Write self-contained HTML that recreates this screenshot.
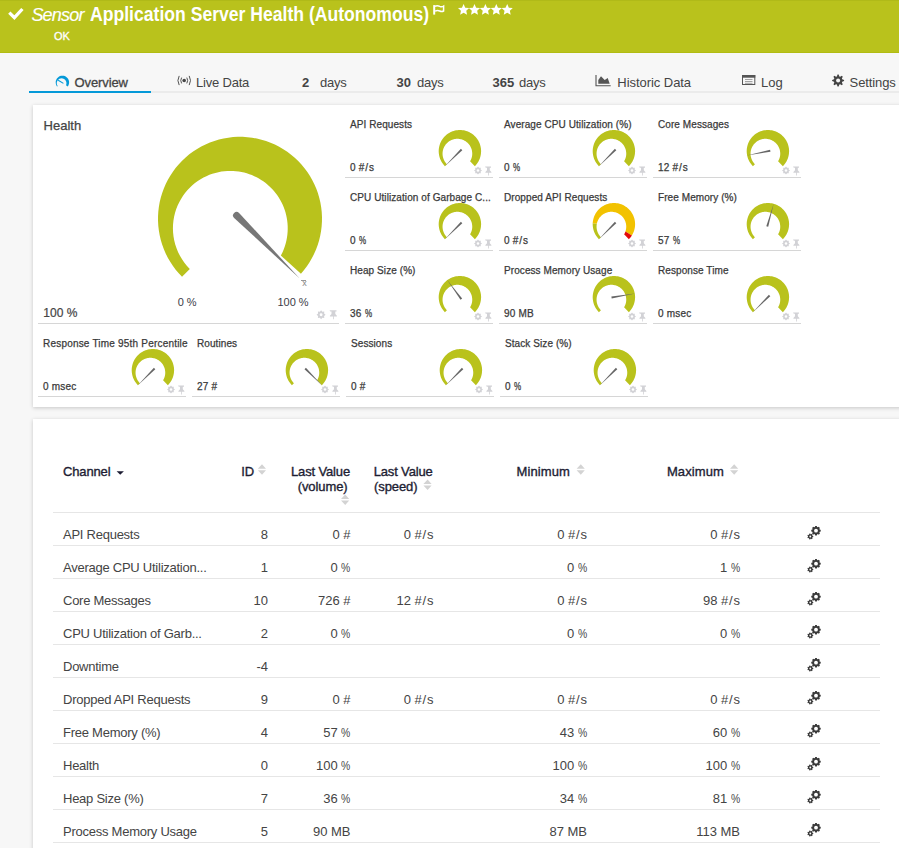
<!DOCTYPE html>
<html><head><meta charset="utf-8"><style>
*{margin:0;padding:0;box-sizing:border-box}
html,body{width:899px;height:848px;overflow:hidden;background:#f7f7f7;font-family:"Liberation Sans",sans-serif;position:relative}
.t{position:absolute;white-space:nowrap;line-height:1}
.tt,.tv{color:#3a3a3a;-webkit-text-stroke:0.25px #3a3a3a}
.th{color:#444;-webkit-text-stroke:0.25px #444}
.tbv{color:#444;-webkit-text-stroke:0.2px #444}
.tl{color:#3c3c48}
.hs{color:#fff;font-style:italic}
.ht{color:#fff;font-weight:bold}
.hok{color:#fff}
.tab{color:#444}
.tab.b{font-weight:bold}
.tab.act{-webkit-text-stroke:0.3px #444}
.th2{color:#1d1d33;-webkit-text-stroke:0.35px #1d1d33}
.td{color:#444}
.pc{display:inline-block;transform:scaleX(0.8);transform-origin:0 50%;margin-right:-2.3px}
.sl{margin:0 0.8px}
#hdr{position:absolute;left:0;top:0;width:899px;height:53px;background:#b9c21c;border-bottom:1px solid #b1bc12;border-top:1px solid #b0ba18}
.panel{position:absolute;left:33px;width:900px;background:#fff;box-shadow:0 1px 4px rgba(0,0,0,0.2)}
</style></head><body>
<div id="hdr"></div>
<div class="panel" style="top:105px;height:302px"></div>
<div class="panel" style="top:419px;height:500px"></div>
<div class="t tt" style="left:350.00px;top:120.44px;font-size:10px;letter-spacing:0.08px">API Requests</div><div class="t tv" style="left:350.00px;top:163.34px;font-size:10px;letter-spacing:0.2px">0 #<span class="sl">/</span>s</div><div style="position:absolute;left:345px;top:177px;width:148px;height:1px;background:#d6d6d6"></div><div class="t tt" style="left:504.00px;top:120.44px;font-size:10px;letter-spacing:0.08px">Average CPU Utilization (%)</div><div class="t tv" style="left:504.00px;top:163.34px;font-size:10px;letter-spacing:0.2px">0 <span class="pc">%</span></div><div style="position:absolute;left:499px;top:177px;width:148px;height:1px;background:#d6d6d6"></div><div class="t tt" style="left:658.00px;top:120.44px;font-size:10px;letter-spacing:0.08px">Core Messages</div><div class="t tv" style="left:658.00px;top:163.34px;font-size:10px;letter-spacing:0.2px">12 #<span class="sl">/</span>s</div><div style="position:absolute;left:653px;top:177px;width:148px;height:1px;background:#d6d6d6"></div><div class="t tt" style="left:350.00px;top:193.44px;font-size:10px;letter-spacing:0.08px">CPU Utilization of Garbage C...</div><div class="t tv" style="left:350.00px;top:236.34px;font-size:10px;letter-spacing:0.2px">0 <span class="pc">%</span></div><div style="position:absolute;left:345px;top:250px;width:148px;height:1px;background:#d6d6d6"></div><div class="t tt" style="left:504.00px;top:193.44px;font-size:10px;letter-spacing:0.08px">Dropped API Requests</div><div class="t tv" style="left:504.00px;top:236.34px;font-size:10px;letter-spacing:0.2px">0 #<span class="sl">/</span>s</div><div style="position:absolute;left:499px;top:250px;width:148px;height:1px;background:#d6d6d6"></div><div class="t tt" style="left:658.00px;top:193.44px;font-size:10px;letter-spacing:0.08px">Free Memory (%)</div><div class="t tv" style="left:658.00px;top:236.34px;font-size:10px;letter-spacing:0.2px">57 <span class="pc">%</span></div><div style="position:absolute;left:653px;top:250px;width:148px;height:1px;background:#d6d6d6"></div><div class="t tt" style="left:350.00px;top:266.44px;font-size:10px;letter-spacing:0.08px">Heap Size (%)</div><div class="t tv" style="left:350.00px;top:309.34px;font-size:10px;letter-spacing:0.2px">36 <span class="pc">%</span></div><div style="position:absolute;left:345px;top:323px;width:148px;height:1px;background:#d6d6d6"></div><div class="t tt" style="left:504.00px;top:266.44px;font-size:10px;letter-spacing:0.08px">Process Memory Usage</div><div class="t tv" style="left:504.00px;top:309.34px;font-size:10px;letter-spacing:0.2px">90 MB</div><div style="position:absolute;left:499px;top:323px;width:148px;height:1px;background:#d6d6d6"></div><div class="t tt" style="left:658.00px;top:266.44px;font-size:10px;letter-spacing:0.08px">Response Time</div><div class="t tv" style="left:658.00px;top:309.34px;font-size:10px;letter-spacing:0.2px">0 msec</div><div style="position:absolute;left:653px;top:323px;width:148px;height:1px;background:#d6d6d6"></div><div class="t tt" style="left:43.00px;top:339.44px;font-size:10px;letter-spacing:0.2px">Response Time 95th Percentile</div><div class="t tv" style="left:43.00px;top:382.34px;font-size:10px;letter-spacing:0.2px">0 msec</div><div style="position:absolute;left:38px;top:396px;width:148px;height:1px;background:#d6d6d6"></div><div class="t tt" style="left:197.00px;top:339.44px;font-size:10px;letter-spacing:0.08px">Routines</div><div class="t tv" style="left:197.00px;top:382.34px;font-size:10px;letter-spacing:0.2px">27 #</div><div style="position:absolute;left:192px;top:396px;width:148px;height:1px;background:#d6d6d6"></div><div class="t tt" style="left:351.00px;top:339.44px;font-size:10px;letter-spacing:0.08px">Sessions</div><div class="t tv" style="left:351.00px;top:382.34px;font-size:10px;letter-spacing:0.2px">0 #</div><div style="position:absolute;left:346px;top:396px;width:148px;height:1px;background:#d6d6d6"></div><div class="t tt" style="left:505.00px;top:339.44px;font-size:10px;letter-spacing:0.08px">Stack Size (%)</div><div class="t tv" style="left:505.00px;top:382.34px;font-size:10px;letter-spacing:0.2px">0 <span class="pc">%</span></div><div style="position:absolute;left:500px;top:396px;width:148px;height:1px;background:#d6d6d6"></div><div class="t th" style="left:43.60px;top:118.90px;font-size:13px;">Health</div><div class="t tbv" style="left:43.30px;top:306.74px;font-size:12px;">100 %</div><div class="t tl" style="left:177.70px;top:297.39px;font-size:11px;">0 %</div><div class="t tl" style="left:277.40px;top:297.39px;font-size:11px;">100 %</div><div style="position:absolute;left:38px;top:323px;width:301px;height:1px;background:#d6d6d6"></div><div class="t tl" style="left:302.20px;top:279.38px;font-size:9px;color:#888">x</div><div style="position:absolute;left:301.2px;top:280px;width:4.6px;height:1px;background:#999"></div><div class="t hs" style="left:31.40px;top:6.16px;font-size:18px;letter-spacing:-0.8px;-webkit-text-stroke:0.15px #fff">Sensor</div><div class="t ht" style="left:89.60px;top:4.99px;font-size:19.5px;transform:scaleX(0.902);transform-origin:0 50%">Application Server Health (Autonomous)</div><div class="t hok" style="left:54.00px;top:30.69px;font-size:11px;-webkit-text-stroke:0.3px #fff">OK</div><div style="position:absolute;left:29px;top:91px;width:870px;height:2px;background:#ebebeb"></div><div style="position:absolute;left:29px;top:91px;width:122px;height:2px;background:#0499d8"></div><div class="t tab act" style="left:74.50px;top:75.70px;font-size:13px;letter-spacing:-0.1px">Overview</div><div class="t tab" style="left:196.00px;top:75.70px;font-size:13px;letter-spacing:-0.2px">Live Data</div><div class="t tab b" style="left:302.00px;top:75.70px;font-size:13px;">2</div><div class="t tab" style="left:320.00px;top:75.70px;font-size:13px;letter-spacing:-0.25px">days</div><div class="t tab b" style="left:396.50px;top:75.70px;font-size:13px;">30</div><div class="t tab" style="left:417.00px;top:75.70px;font-size:13px;letter-spacing:-0.25px">days</div><div class="t tab b" style="left:492.60px;top:75.70px;font-size:13px;">365</div><div class="t tab" style="left:519.00px;top:75.70px;font-size:13px;letter-spacing:-0.25px">days</div><div class="t tab" style="left:617.30px;top:75.70px;font-size:13px;letter-spacing:-0.05px">Historic Data</div><div class="t tab" style="left:761.00px;top:75.70px;font-size:13px;">Log</div><div class="t tab" style="left:849.60px;top:75.70px;font-size:13px;letter-spacing:-0.1px">Settings</div><div class="t th2" style="left:63.00px;top:465.20px;font-size:13px;letter-spacing:-0.15px">Channel</div><div class="t th2" style="left:241.20px;top:465.20px;font-size:13px;">ID</div><div class="t th2" style="right:549.00px;top:465.20px;font-size:13px;letter-spacing:-0.15px">Last Value</div><div class="t th2" style="right:551.50px;top:479.80px;font-size:13px;letter-spacing:-0.1px">(volume)</div><div class="t th2" style="left:373.70px;top:465.20px;font-size:13px;letter-spacing:-0.15px">Last Value</div><div class="t th2" style="left:374.00px;top:479.80px;font-size:13px;letter-spacing:-0.1px">(speed)</div><div class="t th2" style="left:516.50px;top:465.20px;font-size:13px;letter-spacing:0.1px">Minimum</div><div class="t th2" style="left:666.90px;top:465.20px;font-size:13px;letter-spacing:0.1px">Maximum</div><div style="position:absolute;left:53px;top:512px;width:827px;height:1px;background:#e6e6e6"></div><div class="t td" style="left:63.00px;top:528.00px;font-size:13px;letter-spacing:-0.25px">API Requests</div><div class="t td" style="right:631.00px;top:528.00px;font-size:13px;">8</div><div class="t td" style="right:548.50px;top:528.00px;font-size:13px;">0 #</div><div class="t td" style="right:465.50px;top:528.00px;font-size:13px;">0 #<span class="sl">/</span>s</div><div class="t td" style="right:312.00px;top:528.00px;font-size:13px;">0 #<span class="sl">/</span>s</div><div class="t td" style="right:159.00px;top:528.00px;font-size:13px;">0 #<span class="sl">/</span>s</div><div style="position:absolute;left:53px;top:545px;width:827px;height:1px;background:#e6e6e6"></div><div class="t td" style="left:63.00px;top:561.00px;font-size:13px;letter-spacing:-0.25px">Average CPU Utilization...</div><div class="t td" style="right:631.00px;top:561.00px;font-size:13px;">1</div><div class="t td" style="right:548.50px;top:561.00px;font-size:13px;">0 <span class="pc">%</span></div><div class="t td" style="right:312.00px;top:561.00px;font-size:13px;">0 <span class="pc">%</span></div><div class="t td" style="right:159.00px;top:561.00px;font-size:13px;">1 <span class="pc">%</span></div><div style="position:absolute;left:53px;top:578px;width:827px;height:1px;background:#e6e6e6"></div><div class="t td" style="left:63.00px;top:594.00px;font-size:13px;letter-spacing:-0.25px">Core Messages</div><div class="t td" style="right:631.00px;top:594.00px;font-size:13px;">10</div><div class="t td" style="right:548.50px;top:594.00px;font-size:13px;">726 #</div><div class="t td" style="right:465.50px;top:594.00px;font-size:13px;">12 #<span class="sl">/</span>s</div><div class="t td" style="right:312.00px;top:594.00px;font-size:13px;">0 #<span class="sl">/</span>s</div><div class="t td" style="right:159.00px;top:594.00px;font-size:13px;">98 #<span class="sl">/</span>s</div><div style="position:absolute;left:53px;top:611px;width:827px;height:1px;background:#e6e6e6"></div><div class="t td" style="left:63.00px;top:627.00px;font-size:13px;letter-spacing:-0.25px">CPU Utilization of Garb...</div><div class="t td" style="right:631.00px;top:627.00px;font-size:13px;">2</div><div class="t td" style="right:548.50px;top:627.00px;font-size:13px;">0 <span class="pc">%</span></div><div class="t td" style="right:312.00px;top:627.00px;font-size:13px;">0 <span class="pc">%</span></div><div class="t td" style="right:159.00px;top:627.00px;font-size:13px;">0 <span class="pc">%</span></div><div style="position:absolute;left:53px;top:644px;width:827px;height:1px;background:#e6e6e6"></div><div class="t td" style="left:63.00px;top:660.00px;font-size:13px;letter-spacing:-0.25px">Downtime</div><div class="t td" style="right:631.00px;top:660.00px;font-size:13px;">-4</div><div style="position:absolute;left:53px;top:677px;width:827px;height:1px;background:#e6e6e6"></div><div class="t td" style="left:63.00px;top:693.00px;font-size:13px;letter-spacing:-0.25px">Dropped API Requests</div><div class="t td" style="right:631.00px;top:693.00px;font-size:13px;">9</div><div class="t td" style="right:548.50px;top:693.00px;font-size:13px;">0 #</div><div class="t td" style="right:465.50px;top:693.00px;font-size:13px;">0 #<span class="sl">/</span>s</div><div class="t td" style="right:312.00px;top:693.00px;font-size:13px;">0 #<span class="sl">/</span>s</div><div class="t td" style="right:159.00px;top:693.00px;font-size:13px;">0 #<span class="sl">/</span>s</div><div style="position:absolute;left:53px;top:710px;width:827px;height:1px;background:#e6e6e6"></div><div class="t td" style="left:63.00px;top:726.00px;font-size:13px;letter-spacing:-0.25px">Free Memory (%)</div><div class="t td" style="right:631.00px;top:726.00px;font-size:13px;">4</div><div class="t td" style="right:548.50px;top:726.00px;font-size:13px;">57 <span class="pc">%</span></div><div class="t td" style="right:312.00px;top:726.00px;font-size:13px;">43 <span class="pc">%</span></div><div class="t td" style="right:159.00px;top:726.00px;font-size:13px;">60 <span class="pc">%</span></div><div style="position:absolute;left:53px;top:743px;width:827px;height:1px;background:#e6e6e6"></div><div class="t td" style="left:63.00px;top:759.00px;font-size:13px;letter-spacing:-0.25px">Health</div><div class="t td" style="right:631.00px;top:759.00px;font-size:13px;">0</div><div class="t td" style="right:548.50px;top:759.00px;font-size:13px;">100 <span class="pc">%</span></div><div class="t td" style="right:312.00px;top:759.00px;font-size:13px;">100 <span class="pc">%</span></div><div class="t td" style="right:159.00px;top:759.00px;font-size:13px;">100 <span class="pc">%</span></div><div style="position:absolute;left:53px;top:776px;width:827px;height:1px;background:#e6e6e6"></div><div class="t td" style="left:63.00px;top:792.00px;font-size:13px;letter-spacing:-0.25px">Heap Size (%)</div><div class="t td" style="right:631.00px;top:792.00px;font-size:13px;">7</div><div class="t td" style="right:548.50px;top:792.00px;font-size:13px;">36 <span class="pc">%</span></div><div class="t td" style="right:312.00px;top:792.00px;font-size:13px;">34 <span class="pc">%</span></div><div class="t td" style="right:159.00px;top:792.00px;font-size:13px;">81 <span class="pc">%</span></div><div style="position:absolute;left:53px;top:809px;width:827px;height:1px;background:#e6e6e6"></div><div class="t td" style="left:63.00px;top:825.00px;font-size:13px;letter-spacing:-0.25px">Process Memory Usage</div><div class="t td" style="right:631.00px;top:825.00px;font-size:13px;">5</div><div class="t td" style="right:548.50px;top:825.00px;font-size:13px;">90 MB</div><div class="t td" style="right:312.00px;top:825.00px;font-size:13px;">87 MB</div><div class="t td" style="right:159.00px;top:825.00px;font-size:13px;">113 MB</div><div style="position:absolute;left:53px;top:842px;width:827px;height:1px;background:#e6e6e6"></div>
<svg width="899" height="848" style="position:absolute;left:0;top:0"><path d="M444.91,166.19 L444.05,165.28 L443.25,164.32 L442.51,163.32 L441.82,162.28 L441.20,161.19 L440.65,160.08 L440.16,158.93 L439.74,157.75 L439.39,156.55 L439.11,155.34 L438.90,154.10 L438.77,152.86 L438.70,151.62 L438.72,150.37 L438.80,149.12 L438.96,147.88 L439.19,146.66 L439.50,145.45 L439.87,144.25 L440.31,143.09 L440.83,141.95 L441.40,140.84 L442.04,139.77 L442.75,138.74 L443.51,137.75 L444.33,136.81 L445.21,135.92 L446.13,135.08 L447.10,134.30 L448.12,133.57 L449.18,132.91 L450.28,132.31 L451.40,131.78 L452.56,131.31 L453.75,130.91 L454.95,130.59 L456.17,130.33 L457.41,130.15 L458.65,130.04 L459.90,130.00 L461.15,130.04 L462.39,130.15 L463.63,130.33 L464.85,130.59 L466.05,130.91 L467.24,131.31 L468.40,131.78 L469.52,132.31 L470.62,132.91 L471.68,133.57 L472.70,134.30 L473.67,135.08 L474.59,135.92 L475.47,136.81 L476.29,137.75 L477.05,138.74 L477.76,139.77 L478.40,140.84 L478.97,141.95 L479.49,143.09 L479.93,144.25 L480.30,145.45 L480.61,146.66 L480.84,147.88 L481.00,149.12 L481.08,150.37 L481.10,151.62 L481.03,152.86 L480.90,154.10 L480.69,155.34 L480.41,156.55 L480.06,157.75 L479.64,158.93 L479.15,160.08 L478.60,161.19 L477.98,162.28 L477.29,163.32 L476.55,164.32 L475.75,165.28 L474.89,166.19 L470.07,161.37 L470.50,160.62 L470.88,159.86 L471.21,159.08 L471.49,158.30 L471.73,157.52 L471.92,156.74 L472.06,155.96 L472.16,155.18 L472.22,154.41 L472.24,153.65 L472.22,152.90 L472.16,152.17 L472.07,151.44 L471.95,150.73 L471.79,150.03 L471.60,149.35 L471.38,148.68 L471.13,148.03 L470.85,147.40 L470.55,146.79 L470.22,146.19 L469.87,145.62 L469.49,145.06 L469.09,144.52 L468.67,144.00 L468.22,143.51 L467.75,143.03 L467.27,142.58 L466.76,142.14 L466.23,141.73 L465.68,141.34 L465.11,140.98 L464.52,140.64 L463.91,140.33 L463.29,140.04 L462.64,139.78 L461.98,139.54 L461.30,139.34 L460.61,139.17 L459.90,139.03 L459.18,138.93 L458.44,138.86 L457.69,138.82 L456.93,138.83 L456.16,138.87 L455.38,138.96 L454.60,139.09 L453.82,139.26 L453.03,139.48 L452.24,139.74 L451.46,140.06 L450.69,140.42 L449.93,140.83 L449.19,141.30 L448.46,141.81 L447.76,142.38 L447.08,142.99 L446.43,143.66 L445.82,144.37 L445.25,145.13 L444.73,145.94 L444.25,146.79 L443.82,147.67 L443.45,148.59 L443.14,149.55 L442.89,150.53 L442.71,151.54 L442.60,152.56 L442.56,153.60 L442.59,154.64 L442.70,155.69 L442.88,156.73 L443.14,157.76 L443.47,158.78 L443.87,159.77 L444.35,160.73 L444.90,161.66 L445.51,162.54 L446.19,163.38 L446.93,164.17 Z" fill="#b9c21c"/><path d="M444.61,166.49 L460.89,148.80 L462.30,150.21 Z" fill="#666"/><path d="M482.00,170.50 L480.66,171.60 L480.83,173.33 L479.10,173.16 L478.00,174.50 L476.90,173.16 L475.17,173.33 L475.34,171.60 L474.00,170.50 L475.34,169.40 L475.17,167.67 L476.90,167.84 L478.00,166.50 L479.10,167.84 L480.83,167.67 L480.66,169.40Z" fill="#d2d2d6"/><circle cx="478.00" cy="170.50" r="1.28" fill="#fff"/><path d="M485,166.5 h6 v1.2 h-1.2 v2.6 l1.6,1.6 v0.9 h-2.6 v2.7 h-0.8 v-2.7 h-2.6 v-0.9 l1.6,-1.6 v-2.6 h-1.2 z" fill="#d2d2d6"/><path d="M598.91,166.19 L598.05,165.28 L597.25,164.32 L596.51,163.32 L595.82,162.28 L595.20,161.19 L594.65,160.08 L594.16,158.93 L593.74,157.75 L593.39,156.55 L593.11,155.34 L592.90,154.10 L592.77,152.86 L592.70,151.62 L592.72,150.37 L592.80,149.12 L592.96,147.88 L593.19,146.66 L593.50,145.45 L593.87,144.25 L594.31,143.09 L594.83,141.95 L595.40,140.84 L596.04,139.77 L596.75,138.74 L597.51,137.75 L598.33,136.81 L599.21,135.92 L600.13,135.08 L601.10,134.30 L602.12,133.57 L603.18,132.91 L604.28,132.31 L605.40,131.78 L606.56,131.31 L607.75,130.91 L608.95,130.59 L610.17,130.33 L611.41,130.15 L612.65,130.04 L613.90,130.00 L615.15,130.04 L616.39,130.15 L617.63,130.33 L618.85,130.59 L620.05,130.91 L621.24,131.31 L622.40,131.78 L623.52,132.31 L624.62,132.91 L625.68,133.57 L626.70,134.30 L627.67,135.08 L628.59,135.92 L629.47,136.81 L630.29,137.75 L631.05,138.74 L631.76,139.77 L632.40,140.84 L632.97,141.95 L633.49,143.09 L633.93,144.25 L634.30,145.45 L634.61,146.66 L634.84,147.88 L635.00,149.12 L635.08,150.37 L635.10,151.62 L635.03,152.86 L634.90,154.10 L634.69,155.34 L634.41,156.55 L634.06,157.75 L633.64,158.93 L633.15,160.08 L632.60,161.19 L631.98,162.28 L631.29,163.32 L630.55,164.32 L629.75,165.28 L628.89,166.19 L624.07,161.37 L624.50,160.62 L624.88,159.86 L625.21,159.08 L625.49,158.30 L625.73,157.52 L625.92,156.74 L626.06,155.96 L626.16,155.18 L626.22,154.41 L626.24,153.65 L626.22,152.90 L626.16,152.17 L626.07,151.44 L625.95,150.73 L625.79,150.03 L625.60,149.35 L625.38,148.68 L625.13,148.03 L624.85,147.40 L624.55,146.79 L624.22,146.19 L623.87,145.62 L623.49,145.06 L623.09,144.52 L622.67,144.00 L622.22,143.51 L621.75,143.03 L621.27,142.58 L620.76,142.14 L620.23,141.73 L619.68,141.34 L619.11,140.98 L618.52,140.64 L617.91,140.33 L617.29,140.04 L616.64,139.78 L615.98,139.54 L615.30,139.34 L614.61,139.17 L613.90,139.03 L613.18,138.93 L612.44,138.86 L611.69,138.82 L610.93,138.83 L610.16,138.87 L609.38,138.96 L608.60,139.09 L607.82,139.26 L607.03,139.48 L606.24,139.74 L605.46,140.06 L604.69,140.42 L603.93,140.83 L603.19,141.30 L602.46,141.81 L601.76,142.38 L601.08,142.99 L600.43,143.66 L599.82,144.37 L599.25,145.13 L598.73,145.94 L598.25,146.79 L597.82,147.67 L597.45,148.59 L597.14,149.55 L596.89,150.53 L596.71,151.54 L596.60,152.56 L596.56,153.60 L596.59,154.64 L596.70,155.69 L596.88,156.73 L597.14,157.76 L597.47,158.78 L597.87,159.77 L598.35,160.73 L598.90,161.66 L599.51,162.54 L600.19,163.38 L600.93,164.17 Z" fill="#b9c21c"/><path d="M598.61,166.49 L614.89,148.80 L616.30,150.21 Z" fill="#666"/><path d="M636.00,170.50 L634.66,171.60 L634.83,173.33 L633.10,173.16 L632.00,174.50 L630.90,173.16 L629.17,173.33 L629.34,171.60 L628.00,170.50 L629.34,169.40 L629.17,167.67 L630.90,167.84 L632.00,166.50 L633.10,167.84 L634.83,167.67 L634.66,169.40Z" fill="#d2d2d6"/><circle cx="632.00" cy="170.50" r="1.28" fill="#fff"/><path d="M639,166.5 h6 v1.2 h-1.2 v2.6 l1.6,1.6 v0.9 h-2.6 v2.7 h-0.8 v-2.7 h-2.6 v-0.9 l1.6,-1.6 v-2.6 h-1.2 z" fill="#d2d2d6"/><path d="M752.91,166.19 L752.05,165.28 L751.25,164.32 L750.51,163.32 L749.82,162.28 L749.20,161.19 L748.65,160.08 L748.16,158.93 L747.74,157.75 L747.39,156.55 L747.11,155.34 L746.90,154.10 L746.77,152.86 L746.70,151.62 L746.72,150.37 L746.80,149.12 L746.96,147.88 L747.19,146.66 L747.50,145.45 L747.87,144.25 L748.31,143.09 L748.83,141.95 L749.40,140.84 L750.04,139.77 L750.75,138.74 L751.51,137.75 L752.33,136.81 L753.21,135.92 L754.13,135.08 L755.10,134.30 L756.12,133.57 L757.18,132.91 L758.28,132.31 L759.40,131.78 L760.56,131.31 L761.75,130.91 L762.95,130.59 L764.17,130.33 L765.41,130.15 L766.65,130.04 L767.90,130.00 L769.15,130.04 L770.39,130.15 L771.63,130.33 L772.85,130.59 L774.05,130.91 L775.24,131.31 L776.40,131.78 L777.52,132.31 L778.62,132.91 L779.68,133.57 L780.70,134.30 L781.67,135.08 L782.59,135.92 L783.47,136.81 L784.29,137.75 L785.05,138.74 L785.76,139.77 L786.40,140.84 L786.97,141.95 L787.49,143.09 L787.93,144.25 L788.30,145.45 L788.61,146.66 L788.84,147.88 L789.00,149.12 L789.08,150.37 L789.10,151.62 L789.03,152.86 L788.90,154.10 L788.69,155.34 L788.41,156.55 L788.06,157.75 L787.64,158.93 L787.15,160.08 L786.60,161.19 L785.98,162.28 L785.29,163.32 L784.55,164.32 L783.75,165.28 L782.89,166.19 L778.07,161.37 L778.50,160.62 L778.88,159.86 L779.21,159.08 L779.49,158.30 L779.73,157.52 L779.92,156.74 L780.06,155.96 L780.16,155.18 L780.22,154.41 L780.24,153.65 L780.22,152.90 L780.16,152.17 L780.07,151.44 L779.95,150.73 L779.79,150.03 L779.60,149.35 L779.38,148.68 L779.13,148.03 L778.85,147.40 L778.55,146.79 L778.22,146.19 L777.87,145.62 L777.49,145.06 L777.09,144.52 L776.67,144.00 L776.22,143.51 L775.75,143.03 L775.27,142.58 L774.76,142.14 L774.23,141.73 L773.68,141.34 L773.11,140.98 L772.52,140.64 L771.91,140.33 L771.29,140.04 L770.64,139.78 L769.98,139.54 L769.30,139.34 L768.61,139.17 L767.90,139.03 L767.18,138.93 L766.44,138.86 L765.69,138.82 L764.93,138.83 L764.16,138.87 L763.38,138.96 L762.60,139.09 L761.82,139.26 L761.03,139.48 L760.24,139.74 L759.46,140.06 L758.69,140.42 L757.93,140.83 L757.19,141.30 L756.46,141.81 L755.76,142.38 L755.08,142.99 L754.43,143.66 L753.82,144.37 L753.25,145.13 L752.73,145.94 L752.25,146.79 L751.82,147.67 L751.45,148.59 L751.14,149.55 L750.89,150.53 L750.71,151.54 L750.60,152.56 L750.56,153.60 L750.59,154.64 L750.70,155.69 L750.88,156.73 L751.14,157.76 L751.47,158.78 L751.87,159.77 L752.35,160.73 L752.90,161.66 L753.51,162.54 L754.19,163.38 L754.93,164.17 Z" fill="#b9c21c"/><path d="M746.69,155.42 L770.06,149.75 L770.45,151.71 Z" fill="#666"/><path d="M790.00,170.50 L788.66,171.60 L788.83,173.33 L787.10,173.16 L786.00,174.50 L784.90,173.16 L783.17,173.33 L783.34,171.60 L782.00,170.50 L783.34,169.40 L783.17,167.67 L784.90,167.84 L786.00,166.50 L787.10,167.84 L788.83,167.67 L788.66,169.40Z" fill="#d2d2d6"/><circle cx="786.00" cy="170.50" r="1.28" fill="#fff"/><path d="M793,166.5 h6 v1.2 h-1.2 v2.6 l1.6,1.6 v0.9 h-2.6 v2.7 h-0.8 v-2.7 h-2.6 v-0.9 l1.6,-1.6 v-2.6 h-1.2 z" fill="#d2d2d6"/><path d="M444.91,239.19 L444.05,238.28 L443.25,237.32 L442.51,236.32 L441.82,235.28 L441.20,234.19 L440.65,233.08 L440.16,231.93 L439.74,230.75 L439.39,229.55 L439.11,228.34 L438.90,227.10 L438.77,225.86 L438.70,224.62 L438.72,223.37 L438.80,222.12 L438.96,220.88 L439.19,219.66 L439.50,218.45 L439.87,217.25 L440.31,216.09 L440.83,214.95 L441.40,213.84 L442.04,212.77 L442.75,211.74 L443.51,210.75 L444.33,209.81 L445.21,208.92 L446.13,208.08 L447.10,207.30 L448.12,206.57 L449.18,205.91 L450.28,205.31 L451.40,204.78 L452.56,204.31 L453.75,203.91 L454.95,203.59 L456.17,203.33 L457.41,203.15 L458.65,203.04 L459.90,203.00 L461.15,203.04 L462.39,203.15 L463.63,203.33 L464.85,203.59 L466.05,203.91 L467.24,204.31 L468.40,204.78 L469.52,205.31 L470.62,205.91 L471.68,206.57 L472.70,207.30 L473.67,208.08 L474.59,208.92 L475.47,209.81 L476.29,210.75 L477.05,211.74 L477.76,212.77 L478.40,213.84 L478.97,214.95 L479.49,216.09 L479.93,217.25 L480.30,218.45 L480.61,219.66 L480.84,220.88 L481.00,222.12 L481.08,223.37 L481.10,224.62 L481.03,225.86 L480.90,227.10 L480.69,228.34 L480.41,229.55 L480.06,230.75 L479.64,231.93 L479.15,233.08 L478.60,234.19 L477.98,235.28 L477.29,236.32 L476.55,237.32 L475.75,238.28 L474.89,239.19 L470.07,234.37 L470.50,233.62 L470.88,232.86 L471.21,232.08 L471.49,231.30 L471.73,230.52 L471.92,229.74 L472.06,228.96 L472.16,228.18 L472.22,227.41 L472.24,226.65 L472.22,225.90 L472.16,225.17 L472.07,224.44 L471.95,223.73 L471.79,223.03 L471.60,222.35 L471.38,221.68 L471.13,221.03 L470.85,220.40 L470.55,219.79 L470.22,219.19 L469.87,218.62 L469.49,218.06 L469.09,217.52 L468.67,217.00 L468.22,216.51 L467.75,216.03 L467.27,215.58 L466.76,215.14 L466.23,214.73 L465.68,214.34 L465.11,213.98 L464.52,213.64 L463.91,213.33 L463.29,213.04 L462.64,212.78 L461.98,212.54 L461.30,212.34 L460.61,212.17 L459.90,212.03 L459.18,211.93 L458.44,211.86 L457.69,211.82 L456.93,211.83 L456.16,211.87 L455.38,211.96 L454.60,212.09 L453.82,212.26 L453.03,212.48 L452.24,212.74 L451.46,213.06 L450.69,213.42 L449.93,213.83 L449.19,214.30 L448.46,214.81 L447.76,215.38 L447.08,215.99 L446.43,216.66 L445.82,217.37 L445.25,218.13 L444.73,218.94 L444.25,219.79 L443.82,220.67 L443.45,221.59 L443.14,222.55 L442.89,223.53 L442.71,224.54 L442.60,225.56 L442.56,226.60 L442.59,227.64 L442.70,228.69 L442.88,229.73 L443.14,230.76 L443.47,231.78 L443.87,232.77 L444.35,233.73 L444.90,234.66 L445.51,235.54 L446.19,236.38 L446.93,237.17 Z" fill="#b9c21c"/><path d="M444.61,239.49 L460.89,221.80 L462.30,223.21 Z" fill="#666"/><path d="M482.00,243.50 L480.66,244.60 L480.83,246.33 L479.10,246.16 L478.00,247.50 L476.90,246.16 L475.17,246.33 L475.34,244.60 L474.00,243.50 L475.34,242.40 L475.17,240.67 L476.90,240.84 L478.00,239.50 L479.10,240.84 L480.83,240.67 L480.66,242.40Z" fill="#d2d2d6"/><circle cx="478.00" cy="243.50" r="1.28" fill="#fff"/><path d="M485,239.5 h6 v1.2 h-1.2 v2.6 l1.6,1.6 v0.9 h-2.6 v2.7 h-0.8 v-2.7 h-2.6 v-0.9 l1.6,-1.6 v-2.6 h-1.2 z" fill="#d2d2d6"/><path d="M598.91,239.19 L598.05,238.28 L597.25,237.32 L596.51,236.32 L595.82,235.28 L595.20,234.19 L594.65,233.08 L594.16,231.93 L593.74,230.75 L593.39,229.55 L593.11,228.34 L592.90,227.10 L592.77,225.86 L592.70,224.62 L592.72,223.37 L596.89,223.53 L596.71,224.54 L596.60,225.56 L596.56,226.60 L596.59,227.64 L596.70,228.69 L596.88,229.73 L597.14,230.76 L597.47,231.78 L597.87,232.77 L598.35,233.73 L598.90,234.66 L599.51,235.54 L600.19,236.38 L600.93,237.17 Z" fill="#b9c21c"/><path d="M592.72,223.37 L592.80,222.12 L592.96,220.88 L593.19,219.65 L593.50,218.43 L593.88,217.24 L594.32,216.07 L594.84,214.93 L595.42,213.82 L596.06,212.75 L596.77,211.71 L597.53,210.72 L598.36,209.78 L599.24,208.89 L600.17,208.05 L601.14,207.27 L602.16,206.54 L603.23,205.88 L604.33,205.28 L605.46,204.75 L606.62,204.29 L607.81,203.89 L609.02,203.57 L610.25,203.32 L611.49,203.14 L612.73,203.03 L613.98,203.00 L615.23,203.04 L616.48,203.16 L617.72,203.35 L618.94,203.61 L620.15,203.94 L621.33,204.35 L622.49,204.82 L623.62,205.36 L624.72,205.97 L625.77,206.64 L626.79,207.37 L627.76,208.16 L628.68,209.01 L629.55,209.90 L630.37,210.85 L631.13,211.85 L631.83,212.89 L632.47,213.97 L633.04,215.08 L633.54,216.22 L633.98,217.40 L634.35,218.59 L634.64,219.81 L634.86,221.04 L635.01,222.29 L635.09,223.54 L635.09,224.79 L635.02,226.04 L634.88,227.28 L634.66,228.51 L634.37,229.73 L634.00,230.93 L633.57,232.10 L633.07,233.25 L632.50,234.37 L631.87,235.45 L625.45,231.43 L625.69,230.64 L625.89,229.86 L626.04,229.08 L626.15,228.30 L626.21,227.53 L626.24,226.76 L626.22,226.01 L626.17,225.27 L626.09,224.54 L625.96,223.82 L625.81,223.12 L625.62,222.43 L625.41,221.76 L625.16,221.11 L624.89,220.48 L624.59,219.86 L624.26,219.26 L623.91,218.68 L623.54,218.12 L623.14,217.58 L622.71,217.06 L622.27,216.56 L621.80,216.08 L621.32,215.62 L620.81,215.18 L620.28,214.77 L619.73,214.38 L619.16,214.01 L618.57,213.67 L617.96,213.35 L617.34,213.06 L616.69,212.80 L616.03,212.56 L615.35,212.36 L614.66,212.18 L613.95,212.04 L613.22,211.93 L612.48,211.86 L611.73,211.82 L610.97,211.83 L610.20,211.87 L609.42,211.95 L608.64,212.08 L607.85,212.25 L607.06,212.47 L606.28,212.73 L605.50,213.04 L604.72,213.41 L603.96,213.82 L603.21,214.28 L602.48,214.80 L601.78,215.36 L601.10,215.98 L600.45,216.64 L599.83,217.36 L599.26,218.12 L598.73,218.93 L598.25,219.78 L597.82,220.66 L597.45,221.59 L597.14,222.55 L596.89,223.53 Z" fill="#f2c200"/><path d="M631.87,235.45 L631.21,236.44 L630.49,237.40 L629.71,238.32 L628.89,239.19 L624.07,234.37 L624.49,233.65 L624.85,232.92 L625.17,232.18 L625.45,231.43 Z" fill="#e30a0a"/><path d="M598.61,239.49 L614.89,221.80 L616.30,223.21 Z" fill="#666"/><path d="M636.00,243.50 L634.66,244.60 L634.83,246.33 L633.10,246.16 L632.00,247.50 L630.90,246.16 L629.17,246.33 L629.34,244.60 L628.00,243.50 L629.34,242.40 L629.17,240.67 L630.90,240.84 L632.00,239.50 L633.10,240.84 L634.83,240.67 L634.66,242.40Z" fill="#d2d2d6"/><circle cx="632.00" cy="243.50" r="1.28" fill="#fff"/><path d="M639,239.5 h6 v1.2 h-1.2 v2.6 l1.6,1.6 v0.9 h-2.6 v2.7 h-0.8 v-2.7 h-2.6 v-0.9 l1.6,-1.6 v-2.6 h-1.2 z" fill="#d2d2d6"/><path d="M752.91,239.19 L752.05,238.28 L751.25,237.32 L750.51,236.32 L749.82,235.28 L749.20,234.19 L748.65,233.08 L748.16,231.93 L747.74,230.75 L747.39,229.55 L747.11,228.34 L746.90,227.10 L746.77,225.86 L746.70,224.62 L746.72,223.37 L746.80,222.12 L746.96,220.88 L747.19,219.66 L747.50,218.45 L747.87,217.25 L748.31,216.09 L748.83,214.95 L749.40,213.84 L750.04,212.77 L750.75,211.74 L751.51,210.75 L752.33,209.81 L753.21,208.92 L754.13,208.08 L755.10,207.30 L756.12,206.57 L757.18,205.91 L758.28,205.31 L759.40,204.78 L760.56,204.31 L761.75,203.91 L762.95,203.59 L764.17,203.33 L765.41,203.15 L766.65,203.04 L767.90,203.00 L769.15,203.04 L770.39,203.15 L771.63,203.33 L772.85,203.59 L774.05,203.91 L775.24,204.31 L776.40,204.78 L777.52,205.31 L778.62,205.91 L779.68,206.57 L780.70,207.30 L781.67,208.08 L782.59,208.92 L783.47,209.81 L784.29,210.75 L785.05,211.74 L785.76,212.77 L786.40,213.84 L786.97,214.95 L787.49,216.09 L787.93,217.25 L788.30,218.45 L788.61,219.66 L788.84,220.88 L789.00,222.12 L789.08,223.37 L789.10,224.62 L789.03,225.86 L788.90,227.10 L788.69,228.34 L788.41,229.55 L788.06,230.75 L787.64,231.93 L787.15,233.08 L786.60,234.19 L785.98,235.28 L785.29,236.32 L784.55,237.32 L783.75,238.28 L782.89,239.19 L778.07,234.37 L778.50,233.62 L778.88,232.86 L779.21,232.08 L779.49,231.30 L779.73,230.52 L779.92,229.74 L780.06,228.96 L780.16,228.18 L780.22,227.41 L780.24,226.65 L780.22,225.90 L780.16,225.17 L780.07,224.44 L779.95,223.73 L779.79,223.03 L779.60,222.35 L779.38,221.68 L779.13,221.03 L778.85,220.40 L778.55,219.79 L778.22,219.19 L777.87,218.62 L777.49,218.06 L777.09,217.52 L776.67,217.00 L776.22,216.51 L775.75,216.03 L775.27,215.58 L774.76,215.14 L774.23,214.73 L773.68,214.34 L773.11,213.98 L772.52,213.64 L771.91,213.33 L771.29,213.04 L770.64,212.78 L769.98,212.54 L769.30,212.34 L768.61,212.17 L767.90,212.03 L767.18,211.93 L766.44,211.86 L765.69,211.82 L764.93,211.83 L764.16,211.87 L763.38,211.96 L762.60,212.09 L761.82,212.26 L761.03,212.48 L760.24,212.74 L759.46,213.06 L758.69,213.42 L757.93,213.83 L757.19,214.30 L756.46,214.81 L755.76,215.38 L755.08,215.99 L754.43,216.66 L753.82,217.37 L753.25,218.13 L752.73,218.94 L752.25,219.79 L751.82,220.67 L751.45,221.59 L751.14,222.55 L750.89,223.53 L750.71,224.54 L750.60,225.56 L750.56,226.60 L750.59,227.64 L750.70,228.69 L750.88,229.73 L751.14,230.76 L751.47,231.78 L751.87,232.77 L752.35,233.73 L752.90,234.66 L753.51,235.54 L754.19,236.38 L754.93,237.17 Z" fill="#b9c21c"/><path d="M773.74,203.38 L768.22,226.78 L766.29,226.24 Z" fill="#666"/><path d="M790.00,243.50 L788.66,244.60 L788.83,246.33 L787.10,246.16 L786.00,247.50 L784.90,246.16 L783.17,246.33 L783.34,244.60 L782.00,243.50 L783.34,242.40 L783.17,240.67 L784.90,240.84 L786.00,239.50 L787.10,240.84 L788.83,240.67 L788.66,242.40Z" fill="#d2d2d6"/><circle cx="786.00" cy="243.50" r="1.28" fill="#fff"/><path d="M793,239.5 h6 v1.2 h-1.2 v2.6 l1.6,1.6 v0.9 h-2.6 v2.7 h-0.8 v-2.7 h-2.6 v-0.9 l1.6,-1.6 v-2.6 h-1.2 z" fill="#d2d2d6"/><path d="M444.91,312.19 L444.05,311.28 L443.25,310.32 L442.51,309.32 L441.82,308.28 L441.20,307.19 L440.65,306.08 L440.16,304.93 L439.74,303.75 L439.39,302.55 L439.11,301.34 L438.90,300.10 L438.77,298.86 L438.70,297.62 L438.72,296.37 L438.80,295.12 L438.96,293.88 L439.19,292.66 L439.50,291.45 L439.87,290.25 L440.31,289.09 L440.83,287.95 L441.40,286.84 L442.04,285.77 L442.75,284.74 L443.51,283.75 L444.33,282.81 L445.21,281.92 L446.13,281.08 L447.10,280.30 L448.12,279.57 L449.18,278.91 L450.28,278.31 L451.40,277.78 L452.56,277.31 L453.75,276.91 L454.95,276.59 L456.17,276.33 L457.41,276.15 L458.65,276.04 L459.90,276.00 L461.15,276.04 L462.39,276.15 L463.63,276.33 L464.85,276.59 L466.05,276.91 L467.24,277.31 L468.40,277.78 L469.52,278.31 L470.62,278.91 L471.68,279.57 L472.70,280.30 L473.67,281.08 L474.59,281.92 L475.47,282.81 L476.29,283.75 L477.05,284.74 L477.76,285.77 L478.40,286.84 L478.97,287.95 L479.49,289.09 L479.93,290.25 L480.30,291.45 L480.61,292.66 L480.84,293.88 L481.00,295.12 L481.08,296.37 L481.10,297.62 L481.03,298.86 L480.90,300.10 L480.69,301.34 L480.41,302.55 L480.06,303.75 L479.64,304.93 L479.15,306.08 L478.60,307.19 L477.98,308.28 L477.29,309.32 L476.55,310.32 L475.75,311.28 L474.89,312.19 L470.07,307.37 L470.50,306.62 L470.88,305.86 L471.21,305.08 L471.49,304.30 L471.73,303.52 L471.92,302.74 L472.06,301.96 L472.16,301.18 L472.22,300.41 L472.24,299.65 L472.22,298.90 L472.16,298.17 L472.07,297.44 L471.95,296.73 L471.79,296.03 L471.60,295.35 L471.38,294.68 L471.13,294.03 L470.85,293.40 L470.55,292.79 L470.22,292.19 L469.87,291.62 L469.49,291.06 L469.09,290.52 L468.67,290.00 L468.22,289.51 L467.75,289.03 L467.27,288.58 L466.76,288.14 L466.23,287.73 L465.68,287.34 L465.11,286.98 L464.52,286.64 L463.91,286.33 L463.29,286.04 L462.64,285.78 L461.98,285.54 L461.30,285.34 L460.61,285.17 L459.90,285.03 L459.18,284.93 L458.44,284.86 L457.69,284.82 L456.93,284.83 L456.16,284.87 L455.38,284.96 L454.60,285.09 L453.82,285.26 L453.03,285.48 L452.24,285.74 L451.46,286.06 L450.69,286.42 L449.93,286.83 L449.19,287.30 L448.46,287.81 L447.76,288.38 L447.08,288.99 L446.43,289.66 L445.82,290.37 L445.25,291.13 L444.73,291.94 L444.25,292.79 L443.82,293.67 L443.45,294.59 L443.14,295.55 L442.89,296.53 L442.71,297.54 L442.60,298.56 L442.56,299.60 L442.59,300.64 L442.70,301.69 L442.88,302.73 L443.14,303.76 L443.47,304.78 L443.87,305.77 L444.35,306.73 L444.90,307.66 L445.51,308.54 L446.19,309.38 L446.93,310.17 Z" fill="#b9c21c"/><path d="M447.05,279.81 L462.13,298.54 L460.52,299.72 Z" fill="#666"/><path d="M482.00,316.50 L480.66,317.60 L480.83,319.33 L479.10,319.16 L478.00,320.50 L476.90,319.16 L475.17,319.33 L475.34,317.60 L474.00,316.50 L475.34,315.40 L475.17,313.67 L476.90,313.84 L478.00,312.50 L479.10,313.84 L480.83,313.67 L480.66,315.40Z" fill="#d2d2d6"/><circle cx="478.00" cy="316.50" r="1.28" fill="#fff"/><path d="M485,312.5 h6 v1.2 h-1.2 v2.6 l1.6,1.6 v0.9 h-2.6 v2.7 h-0.8 v-2.7 h-2.6 v-0.9 l1.6,-1.6 v-2.6 h-1.2 z" fill="#d2d2d6"/><path d="M598.91,312.19 L598.05,311.28 L597.25,310.32 L596.51,309.32 L595.82,308.28 L595.20,307.19 L594.65,306.08 L594.16,304.93 L593.74,303.75 L593.39,302.55 L593.11,301.34 L592.90,300.10 L592.77,298.86 L592.70,297.62 L592.72,296.37 L592.80,295.12 L592.96,293.88 L593.19,292.66 L593.50,291.45 L593.87,290.25 L594.31,289.09 L594.83,287.95 L595.40,286.84 L596.04,285.77 L596.75,284.74 L597.51,283.75 L598.33,282.81 L599.21,281.92 L600.13,281.08 L601.10,280.30 L602.12,279.57 L603.18,278.91 L604.28,278.31 L605.40,277.78 L606.56,277.31 L607.75,276.91 L608.95,276.59 L610.17,276.33 L611.41,276.15 L612.65,276.04 L613.90,276.00 L615.15,276.04 L616.39,276.15 L617.63,276.33 L618.85,276.59 L620.05,276.91 L621.24,277.31 L622.40,277.78 L623.52,278.31 L624.62,278.91 L625.68,279.57 L626.70,280.30 L627.67,281.08 L628.59,281.92 L629.47,282.81 L630.29,283.75 L631.05,284.74 L631.76,285.77 L632.40,286.84 L632.97,287.95 L633.49,289.09 L633.93,290.25 L634.30,291.45 L634.61,292.66 L634.84,293.88 L635.00,295.12 L635.08,296.37 L635.10,297.62 L635.03,298.86 L634.90,300.10 L634.69,301.34 L634.41,302.55 L634.06,303.75 L633.64,304.93 L633.15,306.08 L632.60,307.19 L631.98,308.28 L631.29,309.32 L630.55,310.32 L629.75,311.28 L628.89,312.19 L624.07,307.37 L624.50,306.62 L624.88,305.86 L625.21,305.08 L625.49,304.30 L625.73,303.52 L625.92,302.74 L626.06,301.96 L626.16,301.18 L626.22,300.41 L626.24,299.65 L626.22,298.90 L626.16,298.17 L626.07,297.44 L625.95,296.73 L625.79,296.03 L625.60,295.35 L625.38,294.68 L625.13,294.03 L624.85,293.40 L624.55,292.79 L624.22,292.19 L623.87,291.62 L623.49,291.06 L623.09,290.52 L622.67,290.00 L622.22,289.51 L621.75,289.03 L621.27,288.58 L620.76,288.14 L620.23,287.73 L619.68,287.34 L619.11,286.98 L618.52,286.64 L617.91,286.33 L617.29,286.04 L616.64,285.78 L615.98,285.54 L615.30,285.34 L614.61,285.17 L613.90,285.03 L613.18,284.93 L612.44,284.86 L611.69,284.82 L610.93,284.83 L610.16,284.87 L609.38,284.96 L608.60,285.09 L607.82,285.26 L607.03,285.48 L606.24,285.74 L605.46,286.06 L604.69,286.42 L603.93,286.83 L603.19,287.30 L602.46,287.81 L601.76,288.38 L601.08,288.99 L600.43,289.66 L599.82,290.37 L599.25,291.13 L598.73,291.94 L598.25,292.79 L597.82,293.67 L597.45,294.59 L597.14,295.55 L596.89,296.53 L596.71,297.54 L596.60,298.56 L596.56,299.60 L596.59,300.64 L596.70,301.69 L596.88,302.73 L597.14,303.76 L597.47,304.78 L597.87,305.77 L598.35,306.73 L598.90,307.66 L599.51,308.54 L600.19,309.38 L600.93,310.17 Z" fill="#b9c21c"/><path d="M635.22,293.62 L611.70,298.58 L611.37,296.61 Z" fill="#666"/><path d="M636.00,316.50 L634.66,317.60 L634.83,319.33 L633.10,319.16 L632.00,320.50 L630.90,319.16 L629.17,319.33 L629.34,317.60 L628.00,316.50 L629.34,315.40 L629.17,313.67 L630.90,313.84 L632.00,312.50 L633.10,313.84 L634.83,313.67 L634.66,315.40Z" fill="#d2d2d6"/><circle cx="632.00" cy="316.50" r="1.28" fill="#fff"/><path d="M639,312.5 h6 v1.2 h-1.2 v2.6 l1.6,1.6 v0.9 h-2.6 v2.7 h-0.8 v-2.7 h-2.6 v-0.9 l1.6,-1.6 v-2.6 h-1.2 z" fill="#d2d2d6"/><path d="M752.91,312.19 L752.05,311.28 L751.25,310.32 L750.51,309.32 L749.82,308.28 L749.20,307.19 L748.65,306.08 L748.16,304.93 L747.74,303.75 L747.39,302.55 L747.11,301.34 L746.90,300.10 L746.77,298.86 L746.70,297.62 L746.72,296.37 L746.80,295.12 L746.96,293.88 L747.19,292.66 L747.50,291.45 L747.87,290.25 L748.31,289.09 L748.83,287.95 L749.40,286.84 L750.04,285.77 L750.75,284.74 L751.51,283.75 L752.33,282.81 L753.21,281.92 L754.13,281.08 L755.10,280.30 L756.12,279.57 L757.18,278.91 L758.28,278.31 L759.40,277.78 L760.56,277.31 L761.75,276.91 L762.95,276.59 L764.17,276.33 L765.41,276.15 L766.65,276.04 L767.90,276.00 L769.15,276.04 L770.39,276.15 L771.63,276.33 L772.85,276.59 L774.05,276.91 L775.24,277.31 L776.40,277.78 L777.52,278.31 L778.62,278.91 L779.68,279.57 L780.70,280.30 L781.67,281.08 L782.59,281.92 L783.47,282.81 L784.29,283.75 L785.05,284.74 L785.76,285.77 L786.40,286.84 L786.97,287.95 L787.49,289.09 L787.93,290.25 L788.30,291.45 L788.61,292.66 L788.84,293.88 L789.00,295.12 L789.08,296.37 L789.10,297.62 L789.03,298.86 L788.90,300.10 L788.69,301.34 L788.41,302.55 L788.06,303.75 L787.64,304.93 L787.15,306.08 L786.60,307.19 L785.98,308.28 L785.29,309.32 L784.55,310.32 L783.75,311.28 L782.89,312.19 L778.07,307.37 L778.50,306.62 L778.88,305.86 L779.21,305.08 L779.49,304.30 L779.73,303.52 L779.92,302.74 L780.06,301.96 L780.16,301.18 L780.22,300.41 L780.24,299.65 L780.22,298.90 L780.16,298.17 L780.07,297.44 L779.95,296.73 L779.79,296.03 L779.60,295.35 L779.38,294.68 L779.13,294.03 L778.85,293.40 L778.55,292.79 L778.22,292.19 L777.87,291.62 L777.49,291.06 L777.09,290.52 L776.67,290.00 L776.22,289.51 L775.75,289.03 L775.27,288.58 L774.76,288.14 L774.23,287.73 L773.68,287.34 L773.11,286.98 L772.52,286.64 L771.91,286.33 L771.29,286.04 L770.64,285.78 L769.98,285.54 L769.30,285.34 L768.61,285.17 L767.90,285.03 L767.18,284.93 L766.44,284.86 L765.69,284.82 L764.93,284.83 L764.16,284.87 L763.38,284.96 L762.60,285.09 L761.82,285.26 L761.03,285.48 L760.24,285.74 L759.46,286.06 L758.69,286.42 L757.93,286.83 L757.19,287.30 L756.46,287.81 L755.76,288.38 L755.08,288.99 L754.43,289.66 L753.82,290.37 L753.25,291.13 L752.73,291.94 L752.25,292.79 L751.82,293.67 L751.45,294.59 L751.14,295.55 L750.89,296.53 L750.71,297.54 L750.60,298.56 L750.56,299.60 L750.59,300.64 L750.70,301.69 L750.88,302.73 L751.14,303.76 L751.47,304.78 L751.87,305.77 L752.35,306.73 L752.90,307.66 L753.51,308.54 L754.19,309.38 L754.93,310.17 Z" fill="#b9c21c"/><path d="M752.61,312.49 L768.89,294.80 L770.30,296.21 Z" fill="#666"/><path d="M790.00,316.50 L788.66,317.60 L788.83,319.33 L787.10,319.16 L786.00,320.50 L784.90,319.16 L783.17,319.33 L783.34,317.60 L782.00,316.50 L783.34,315.40 L783.17,313.67 L784.90,313.84 L786.00,312.50 L787.10,313.84 L788.83,313.67 L788.66,315.40Z" fill="#d2d2d6"/><circle cx="786.00" cy="316.50" r="1.28" fill="#fff"/><path d="M793,312.5 h6 v1.2 h-1.2 v2.6 l1.6,1.6 v0.9 h-2.6 v2.7 h-0.8 v-2.7 h-2.6 v-0.9 l1.6,-1.6 v-2.6 h-1.2 z" fill="#d2d2d6"/><path d="M137.91,385.19 L137.05,384.28 L136.25,383.32 L135.51,382.32 L134.82,381.28 L134.20,380.19 L133.65,379.08 L133.16,377.93 L132.74,376.75 L132.39,375.55 L132.11,374.34 L131.90,373.10 L131.77,371.86 L131.70,370.62 L131.72,369.37 L131.80,368.12 L131.96,366.88 L132.19,365.66 L132.50,364.45 L132.87,363.25 L133.31,362.09 L133.83,360.95 L134.40,359.84 L135.04,358.77 L135.75,357.74 L136.51,356.75 L137.33,355.81 L138.21,354.92 L139.13,354.08 L140.10,353.30 L141.12,352.57 L142.18,351.91 L143.28,351.31 L144.40,350.78 L145.56,350.31 L146.75,349.91 L147.95,349.59 L149.17,349.33 L150.41,349.15 L151.65,349.04 L152.90,349.00 L154.15,349.04 L155.39,349.15 L156.63,349.33 L157.85,349.59 L159.05,349.91 L160.24,350.31 L161.40,350.78 L162.52,351.31 L163.62,351.91 L164.68,352.57 L165.70,353.30 L166.67,354.08 L167.59,354.92 L168.47,355.81 L169.29,356.75 L170.05,357.74 L170.76,358.77 L171.40,359.84 L171.97,360.95 L172.49,362.09 L172.93,363.25 L173.30,364.45 L173.61,365.66 L173.84,366.88 L174.00,368.12 L174.08,369.37 L174.10,370.62 L174.03,371.86 L173.90,373.10 L173.69,374.34 L173.41,375.55 L173.06,376.75 L172.64,377.93 L172.15,379.08 L171.60,380.19 L170.98,381.28 L170.29,382.32 L169.55,383.32 L168.75,384.28 L167.89,385.19 L163.07,380.37 L163.50,379.62 L163.88,378.86 L164.21,378.08 L164.49,377.30 L164.73,376.52 L164.92,375.74 L165.06,374.96 L165.16,374.18 L165.22,373.41 L165.24,372.65 L165.22,371.90 L165.16,371.17 L165.07,370.44 L164.95,369.73 L164.79,369.03 L164.60,368.35 L164.38,367.68 L164.13,367.03 L163.85,366.40 L163.55,365.79 L163.22,365.19 L162.87,364.62 L162.49,364.06 L162.09,363.52 L161.67,363.00 L161.22,362.51 L160.75,362.03 L160.27,361.58 L159.76,361.14 L159.23,360.73 L158.68,360.34 L158.11,359.98 L157.52,359.64 L156.91,359.33 L156.29,359.04 L155.64,358.78 L154.98,358.54 L154.30,358.34 L153.61,358.17 L152.90,358.03 L152.18,357.93 L151.44,357.86 L150.69,357.82 L149.93,357.83 L149.16,357.87 L148.38,357.96 L147.60,358.09 L146.82,358.26 L146.03,358.48 L145.24,358.74 L144.46,359.06 L143.69,359.42 L142.93,359.83 L142.19,360.30 L141.46,360.81 L140.76,361.38 L140.08,361.99 L139.43,362.66 L138.82,363.37 L138.25,364.13 L137.73,364.94 L137.25,365.79 L136.82,366.67 L136.45,367.59 L136.14,368.55 L135.89,369.53 L135.71,370.54 L135.60,371.56 L135.56,372.60 L135.59,373.64 L135.70,374.69 L135.88,375.73 L136.14,376.76 L136.47,377.78 L136.87,378.77 L137.35,379.73 L137.90,380.66 L138.51,381.54 L139.19,382.38 L139.93,383.17 Z" fill="#b9c21c"/><path d="M137.61,385.49 L153.89,367.80 L155.30,369.21 Z" fill="#666"/><path d="M175.00,389.50 L173.66,390.60 L173.83,392.33 L172.10,392.16 L171.00,393.50 L169.90,392.16 L168.17,392.33 L168.34,390.60 L167.00,389.50 L168.34,388.40 L168.17,386.67 L169.90,386.84 L171.00,385.50 L172.10,386.84 L173.83,386.67 L173.66,388.40Z" fill="#d2d2d6"/><circle cx="171.00" cy="389.50" r="1.28" fill="#fff"/><path d="M178,385.5 h6 v1.2 h-1.2 v2.6 l1.6,1.6 v0.9 h-2.6 v2.7 h-0.8 v-2.7 h-2.6 v-0.9 l1.6,-1.6 v-2.6 h-1.2 z" fill="#d2d2d6"/><path d="M291.91,385.19 L291.05,384.28 L290.25,383.32 L289.51,382.32 L288.82,381.28 L288.20,380.19 L287.65,379.08 L287.16,377.93 L286.74,376.75 L286.39,375.55 L286.11,374.34 L285.90,373.10 L285.77,371.86 L285.70,370.62 L285.72,369.37 L285.80,368.12 L285.96,366.88 L286.19,365.66 L286.50,364.45 L286.87,363.25 L287.31,362.09 L287.83,360.95 L288.40,359.84 L289.04,358.77 L289.75,357.74 L290.51,356.75 L291.33,355.81 L292.21,354.92 L293.13,354.08 L294.10,353.30 L295.12,352.57 L296.18,351.91 L297.28,351.31 L298.40,350.78 L299.56,350.31 L300.75,349.91 L301.95,349.59 L303.17,349.33 L304.41,349.15 L305.65,349.04 L306.90,349.00 L308.15,349.04 L309.39,349.15 L310.63,349.33 L311.85,349.59 L313.05,349.91 L314.24,350.31 L315.40,350.78 L316.52,351.31 L317.62,351.91 L318.68,352.57 L319.70,353.30 L320.67,354.08 L321.59,354.92 L322.47,355.81 L323.29,356.75 L324.05,357.74 L324.76,358.77 L325.40,359.84 L325.97,360.95 L326.49,362.09 L326.93,363.25 L327.30,364.45 L327.61,365.66 L327.84,366.88 L328.00,368.12 L328.08,369.37 L328.10,370.62 L328.03,371.86 L327.90,373.10 L327.69,374.34 L327.41,375.55 L327.06,376.75 L326.64,377.93 L326.15,379.08 L325.60,380.19 L324.98,381.28 L324.29,382.32 L323.55,383.32 L322.75,384.28 L321.89,385.19 L317.07,380.37 L317.50,379.62 L317.88,378.86 L318.21,378.08 L318.49,377.30 L318.73,376.52 L318.92,375.74 L319.06,374.96 L319.16,374.18 L319.22,373.41 L319.24,372.65 L319.22,371.90 L319.16,371.17 L319.07,370.44 L318.95,369.73 L318.79,369.03 L318.60,368.35 L318.38,367.68 L318.13,367.03 L317.85,366.40 L317.55,365.79 L317.22,365.19 L316.87,364.62 L316.49,364.06 L316.09,363.52 L315.67,363.00 L315.22,362.51 L314.75,362.03 L314.27,361.58 L313.76,361.14 L313.23,360.73 L312.68,360.34 L312.11,359.98 L311.52,359.64 L310.91,359.33 L310.29,359.04 L309.64,358.78 L308.98,358.54 L308.30,358.34 L307.61,358.17 L306.90,358.03 L306.18,357.93 L305.44,357.86 L304.69,357.82 L303.93,357.83 L303.16,357.87 L302.38,357.96 L301.60,358.09 L300.82,358.26 L300.03,358.48 L299.24,358.74 L298.46,359.06 L297.69,359.42 L296.93,359.83 L296.19,360.30 L295.46,360.81 L294.76,361.38 L294.08,361.99 L293.43,362.66 L292.82,363.37 L292.25,364.13 L291.73,364.94 L291.25,365.79 L290.82,366.67 L290.45,367.59 L290.14,368.55 L289.89,369.53 L289.71,370.54 L289.60,371.56 L289.56,372.60 L289.59,373.64 L289.70,374.69 L289.88,375.73 L290.14,376.76 L290.47,377.78 L290.87,378.77 L291.35,379.73 L291.90,380.66 L292.51,381.54 L293.19,382.38 L293.93,383.17 Z" fill="#b9c21c"/><path d="M322.19,385.49 L304.50,369.21 L305.91,367.80 Z" fill="#666"/><path d="M329.00,389.50 L327.66,390.60 L327.83,392.33 L326.10,392.16 L325.00,393.50 L323.90,392.16 L322.17,392.33 L322.34,390.60 L321.00,389.50 L322.34,388.40 L322.17,386.67 L323.90,386.84 L325.00,385.50 L326.10,386.84 L327.83,386.67 L327.66,388.40Z" fill="#d2d2d6"/><circle cx="325.00" cy="389.50" r="1.28" fill="#fff"/><path d="M332,385.5 h6 v1.2 h-1.2 v2.6 l1.6,1.6 v0.9 h-2.6 v2.7 h-0.8 v-2.7 h-2.6 v-0.9 l1.6,-1.6 v-2.6 h-1.2 z" fill="#d2d2d6"/><path d="M445.91,385.19 L445.05,384.28 L444.25,383.32 L443.51,382.32 L442.82,381.28 L442.20,380.19 L441.65,379.08 L441.16,377.93 L440.74,376.75 L440.39,375.55 L440.11,374.34 L439.90,373.10 L439.77,371.86 L439.70,370.62 L439.72,369.37 L439.80,368.12 L439.96,366.88 L440.19,365.66 L440.50,364.45 L440.87,363.25 L441.31,362.09 L441.83,360.95 L442.40,359.84 L443.04,358.77 L443.75,357.74 L444.51,356.75 L445.33,355.81 L446.21,354.92 L447.13,354.08 L448.10,353.30 L449.12,352.57 L450.18,351.91 L451.28,351.31 L452.40,350.78 L453.56,350.31 L454.75,349.91 L455.95,349.59 L457.17,349.33 L458.41,349.15 L459.65,349.04 L460.90,349.00 L462.15,349.04 L463.39,349.15 L464.63,349.33 L465.85,349.59 L467.05,349.91 L468.24,350.31 L469.40,350.78 L470.52,351.31 L471.62,351.91 L472.68,352.57 L473.70,353.30 L474.67,354.08 L475.59,354.92 L476.47,355.81 L477.29,356.75 L478.05,357.74 L478.76,358.77 L479.40,359.84 L479.97,360.95 L480.49,362.09 L480.93,363.25 L481.30,364.45 L481.61,365.66 L481.84,366.88 L482.00,368.12 L482.08,369.37 L482.10,370.62 L482.03,371.86 L481.90,373.10 L481.69,374.34 L481.41,375.55 L481.06,376.75 L480.64,377.93 L480.15,379.08 L479.60,380.19 L478.98,381.28 L478.29,382.32 L477.55,383.32 L476.75,384.28 L475.89,385.19 L471.07,380.37 L471.50,379.62 L471.88,378.86 L472.21,378.08 L472.49,377.30 L472.73,376.52 L472.92,375.74 L473.06,374.96 L473.16,374.18 L473.22,373.41 L473.24,372.65 L473.22,371.90 L473.16,371.17 L473.07,370.44 L472.95,369.73 L472.79,369.03 L472.60,368.35 L472.38,367.68 L472.13,367.03 L471.85,366.40 L471.55,365.79 L471.22,365.19 L470.87,364.62 L470.49,364.06 L470.09,363.52 L469.67,363.00 L469.22,362.51 L468.75,362.03 L468.27,361.58 L467.76,361.14 L467.23,360.73 L466.68,360.34 L466.11,359.98 L465.52,359.64 L464.91,359.33 L464.29,359.04 L463.64,358.78 L462.98,358.54 L462.30,358.34 L461.61,358.17 L460.90,358.03 L460.18,357.93 L459.44,357.86 L458.69,357.82 L457.93,357.83 L457.16,357.87 L456.38,357.96 L455.60,358.09 L454.82,358.26 L454.03,358.48 L453.24,358.74 L452.46,359.06 L451.69,359.42 L450.93,359.83 L450.19,360.30 L449.46,360.81 L448.76,361.38 L448.08,361.99 L447.43,362.66 L446.82,363.37 L446.25,364.13 L445.73,364.94 L445.25,365.79 L444.82,366.67 L444.45,367.59 L444.14,368.55 L443.89,369.53 L443.71,370.54 L443.60,371.56 L443.56,372.60 L443.59,373.64 L443.70,374.69 L443.88,375.73 L444.14,376.76 L444.47,377.78 L444.87,378.77 L445.35,379.73 L445.90,380.66 L446.51,381.54 L447.19,382.38 L447.93,383.17 Z" fill="#b9c21c"/><path d="M445.61,385.49 L461.89,367.80 L463.30,369.21 Z" fill="#666"/><path d="M483.00,389.50 L481.66,390.60 L481.83,392.33 L480.10,392.16 L479.00,393.50 L477.90,392.16 L476.17,392.33 L476.34,390.60 L475.00,389.50 L476.34,388.40 L476.17,386.67 L477.90,386.84 L479.00,385.50 L480.10,386.84 L481.83,386.67 L481.66,388.40Z" fill="#d2d2d6"/><circle cx="479.00" cy="389.50" r="1.28" fill="#fff"/><path d="M486,385.5 h6 v1.2 h-1.2 v2.6 l1.6,1.6 v0.9 h-2.6 v2.7 h-0.8 v-2.7 h-2.6 v-0.9 l1.6,-1.6 v-2.6 h-1.2 z" fill="#d2d2d6"/><path d="M599.91,385.19 L599.05,384.28 L598.25,383.32 L597.51,382.32 L596.82,381.28 L596.20,380.19 L595.65,379.08 L595.16,377.93 L594.74,376.75 L594.39,375.55 L594.11,374.34 L593.90,373.10 L593.77,371.86 L593.70,370.62 L593.72,369.37 L593.80,368.12 L593.96,366.88 L594.19,365.66 L594.50,364.45 L594.87,363.25 L595.31,362.09 L595.83,360.95 L596.40,359.84 L597.04,358.77 L597.75,357.74 L598.51,356.75 L599.33,355.81 L600.21,354.92 L601.13,354.08 L602.10,353.30 L603.12,352.57 L604.18,351.91 L605.28,351.31 L606.40,350.78 L607.56,350.31 L608.75,349.91 L609.95,349.59 L611.17,349.33 L612.41,349.15 L613.65,349.04 L614.90,349.00 L616.15,349.04 L617.39,349.15 L618.63,349.33 L619.85,349.59 L621.05,349.91 L622.24,350.31 L623.40,350.78 L624.52,351.31 L625.62,351.91 L626.68,352.57 L627.70,353.30 L628.67,354.08 L629.59,354.92 L630.47,355.81 L631.29,356.75 L632.05,357.74 L632.76,358.77 L633.40,359.84 L633.97,360.95 L634.49,362.09 L634.93,363.25 L635.30,364.45 L635.61,365.66 L635.84,366.88 L636.00,368.12 L636.08,369.37 L636.10,370.62 L636.03,371.86 L635.90,373.10 L635.69,374.34 L635.41,375.55 L635.06,376.75 L634.64,377.93 L634.15,379.08 L633.60,380.19 L632.98,381.28 L632.29,382.32 L631.55,383.32 L630.75,384.28 L629.89,385.19 L625.07,380.37 L625.50,379.62 L625.88,378.86 L626.21,378.08 L626.49,377.30 L626.73,376.52 L626.92,375.74 L627.06,374.96 L627.16,374.18 L627.22,373.41 L627.24,372.65 L627.22,371.90 L627.16,371.17 L627.07,370.44 L626.95,369.73 L626.79,369.03 L626.60,368.35 L626.38,367.68 L626.13,367.03 L625.85,366.40 L625.55,365.79 L625.22,365.19 L624.87,364.62 L624.49,364.06 L624.09,363.52 L623.67,363.00 L623.22,362.51 L622.75,362.03 L622.27,361.58 L621.76,361.14 L621.23,360.73 L620.68,360.34 L620.11,359.98 L619.52,359.64 L618.91,359.33 L618.29,359.04 L617.64,358.78 L616.98,358.54 L616.30,358.34 L615.61,358.17 L614.90,358.03 L614.18,357.93 L613.44,357.86 L612.69,357.82 L611.93,357.83 L611.16,357.87 L610.38,357.96 L609.60,358.09 L608.82,358.26 L608.03,358.48 L607.24,358.74 L606.46,359.06 L605.69,359.42 L604.93,359.83 L604.19,360.30 L603.46,360.81 L602.76,361.38 L602.08,361.99 L601.43,362.66 L600.82,363.37 L600.25,364.13 L599.73,364.94 L599.25,365.79 L598.82,366.67 L598.45,367.59 L598.14,368.55 L597.89,369.53 L597.71,370.54 L597.60,371.56 L597.56,372.60 L597.59,373.64 L597.70,374.69 L597.88,375.73 L598.14,376.76 L598.47,377.78 L598.87,378.77 L599.35,379.73 L599.90,380.66 L600.51,381.54 L601.19,382.38 L601.93,383.17 Z" fill="#b9c21c"/><path d="M599.61,385.49 L615.89,367.80 L617.30,369.21 Z" fill="#666"/><path d="M637.00,389.50 L635.66,390.60 L635.83,392.33 L634.10,392.16 L633.00,393.50 L631.90,392.16 L630.17,392.33 L630.34,390.60 L629.00,389.50 L630.34,388.40 L630.17,386.67 L631.90,386.84 L633.00,385.50 L634.10,386.84 L635.83,386.67 L635.66,388.40Z" fill="#d2d2d6"/><circle cx="633.00" cy="389.50" r="1.28" fill="#fff"/><path d="M640,385.5 h6 v1.2 h-1.2 v2.6 l1.6,1.6 v0.9 h-2.6 v2.7 h-0.8 v-2.7 h-2.6 v-0.9 l1.6,-1.6 v-2.6 h-1.2 z" fill="#d2d2d6"/><path d="M182.02,276.78 L178.74,273.31 L175.67,269.65 L172.82,265.82 L170.20,261.83 L167.81,257.69 L165.67,253.42 L163.78,249.04 L162.15,244.55 L160.78,239.97 L159.68,235.32 L158.86,230.62 L158.31,225.88 L158.03,221.11 L158.04,216.33 L158.32,211.56 L158.88,206.82 L159.71,202.12 L160.82,197.47 L162.20,192.90 L163.84,188.41 L165.74,184.03 L167.89,179.77 L170.28,175.64 L172.91,171.65 L175.77,167.82 L178.85,164.17 L182.13,160.70 L185.61,157.43 L189.28,154.37 L193.11,151.53 L197.11,148.91 L201.25,146.53 L205.52,144.40 L209.91,142.52 L214.41,140.90 L218.98,139.54 L223.63,138.45 L228.34,137.63 L233.08,137.09 L237.85,136.83 L242.63,136.84 L247.40,137.13 L252.14,137.70 L256.84,138.55 L261.48,139.66 L266.05,141.05 L270.54,142.70 L274.91,144.60 L279.17,146.76 L283.30,149.17 L287.28,151.80 L291.10,154.67 L294.75,157.75 L298.21,161.05 L301.47,164.53 L304.53,168.20 L307.36,172.05 L309.97,176.05 L312.34,180.19 L314.47,184.47 L316.34,188.86 L317.95,193.36 L319.30,197.94 L320.38,202.59 L321.19,207.30 L321.72,212.05 L321.98,216.81 L321.95,221.59 L321.65,226.36 L321.07,231.10 L320.22,235.80 L319.09,240.44 L317.70,245.01 L316.04,249.48 L314.13,253.86 L311.96,258.12 L309.55,262.24 L306.90,266.21 L304.03,270.03 L300.94,273.67 L280.84,255.57 L282.31,252.65 L283.59,249.69 L284.69,246.71 L285.62,243.72 L286.36,240.73 L286.94,237.74 L287.36,234.77 L287.62,231.83 L287.72,228.91 L287.68,226.03 L287.50,223.20 L287.18,220.41 L286.73,217.67 L286.16,214.99 L285.46,212.36 L284.66,209.80 L283.74,207.29 L282.71,204.86 L281.59,202.49 L280.36,200.19 L279.04,197.96 L277.63,195.81 L276.13,193.72 L274.54,191.71 L272.87,189.78 L271.12,187.93 L269.28,186.15 L267.36,184.46 L265.37,182.85 L263.30,181.33 L261.16,179.90 L258.94,178.55 L256.65,177.30 L254.29,176.15 L251.86,175.11 L249.37,174.16 L246.81,173.33 L244.18,172.61 L241.50,172.01 L238.76,171.54 L235.97,171.19 L233.13,170.98 L230.25,170.91 L227.32,170.99 L224.37,171.22 L221.39,171.61 L218.39,172.17 L215.38,172.89 L212.38,173.79 L209.38,174.87 L206.41,176.13 L203.47,177.58 L200.58,179.22 L197.75,181.05 L194.99,183.08 L192.32,185.29 L189.76,187.70 L187.32,190.29 L185.02,193.06 L182.88,196.01 L180.90,199.13 L179.11,202.40 L177.52,205.82 L176.14,209.37 L174.99,213.04 L174.09,216.81 L173.43,220.67 L173.04,224.60 L172.92,228.57 L173.08,232.57 L173.52,236.57 L174.24,240.55 L175.25,244.49 L176.54,248.36 L178.11,252.14 L179.94,255.82 L182.05,259.36 L184.40,262.75 L187.00,265.96 L189.82,268.98 Z" fill="#b9c21c"/><path d="M299.72,278.52 L234.13,217.88 A3.5,3.5 0 0 1 239.08,212.93 Z" fill="#777"/><path d="M325.60,314.80 L324.09,316.04 L324.28,317.98 L322.34,317.79 L321.10,319.30 L319.86,317.79 L317.92,317.98 L318.11,316.04 L316.60,314.80 L318.11,313.56 L317.92,311.62 L319.86,311.81 L321.10,310.30 L322.34,311.81 L324.28,311.62 L324.09,313.56Z" fill="#d2d2d6"/><circle cx="321.10" cy="314.80" r="1.44" fill="#fff"/><path d="M329.5,310.3 h7 v1.2 h-1.2 v2.6 l1.6,1.6 v0.9 h-3.1 v2.7 h-0.8 v-2.7 h-3.1 v-0.9 l1.6,-1.6 v-2.6 h-1.2 z" fill="#d2d2d6"/><path d="M9.3,12.6 L14.4,17.6 L22.4,9" fill="none" stroke="#fff" stroke-width="3.3" stroke-linecap="butt" stroke-linejoin="miter"/><rect x="433.2" y="5.1" width="2" height="9.5" fill="#fff"/><path d="M435,6.2 Q437.5,5.2 439.7,6.4 Q441.8,7.4 443.6,6.2 V11 Q441.8,12 439.7,11 Q437.5,9.9 435,11.2" fill="none" stroke="#fff" stroke-width="1.5"/><path d="M463.60,4.00 L465.25,7.63 L469.21,8.08 L466.26,10.77 L467.07,14.67 L463.60,12.70 L460.13,14.67 L460.94,10.77 L457.99,8.08 L461.95,7.63Z" fill="#fff"/><path d="M474.50,4.00 L476.15,7.63 L480.11,8.08 L477.16,10.77 L477.97,14.67 L474.50,12.70 L471.03,14.67 L471.84,10.77 L468.89,8.08 L472.85,7.63Z" fill="#fff"/><path d="M485.40,4.00 L487.05,7.63 L491.01,8.08 L488.06,10.77 L488.87,14.67 L485.40,12.70 L481.93,14.67 L482.74,10.77 L479.79,8.08 L483.75,7.63Z" fill="#fff"/><path d="M496.30,4.00 L497.95,7.63 L501.91,8.08 L498.96,10.77 L499.77,14.67 L496.30,12.70 L492.83,14.67 L493.64,10.77 L490.69,8.08 L494.65,7.63Z" fill="#fff"/><path d="M507.20,4.00 L508.85,7.63 L512.81,8.08 L509.86,10.77 L510.67,14.67 L507.20,12.70 L503.73,14.67 L504.54,10.77 L501.59,8.08 L505.55,7.63Z" fill="#fff"/><path d="M57.12,86.52 L56.69,85.91 L56.34,85.25 L56.06,84.56 L55.86,83.84 L55.74,83.10 L55.70,82.35 L55.75,81.61 L55.88,80.87 L56.09,80.15 L56.38,79.46 L56.74,78.81 L57.18,78.20 L57.68,77.65 L58.24,77.15 L58.85,76.72 L59.51,76.36 L60.20,76.07 L60.92,75.87 L61.65,75.74 L62.40,75.70 L63.15,75.74 L63.88,75.87 L64.60,76.07 L65.29,76.36 L65.95,76.72 L66.56,77.15 L67.12,77.65 L67.62,78.20 L68.06,78.81 L68.42,79.46 L68.71,80.15 L68.92,80.87 L69.05,81.61 L69.10,82.35 L69.06,83.10 L68.94,83.84 L68.74,84.56 L68.46,85.25 L68.11,85.91 L67.68,86.52 L65.99,85.20 L66.18,84.72 L66.31,84.24 L66.40,83.76 L66.43,83.29 L66.42,82.82 L66.37,82.37 L66.27,81.94 L66.14,81.52 L65.98,81.13 L65.78,80.75 L65.55,80.40 L65.30,80.07 L65.02,79.76 L64.71,79.48 L64.38,79.23 L64.03,79.00 L63.65,78.81 L63.25,78.64 L62.84,78.51 L62.40,78.42 L61.95,78.37 L61.48,78.35 L61.00,78.39 L60.52,78.48 L60.04,78.62 L59.56,78.81 L59.09,79.06 L58.64,79.38 L58.22,79.75 L57.83,80.17 L57.50,80.65 L57.22,81.18 L57.00,81.76 L56.85,82.36 L56.79,82.99 L56.81,83.63 L56.91,84.27 L57.10,84.89 L57.38,85.49 L57.73,86.05 Z" fill="#0499d8"/><path d="M58.2,80.2 L63.4,83.4" stroke="#0499d8" stroke-width="1.1"/><circle cx="184.2" cy="80.5" r="1.8" fill="#444"/><path d="M181.6,77.6 Q179.9,80.5 181.6,83.4 M186.8,77.6 Q188.5,80.5 186.8,83.4 M179.2,75.9 Q176.6,80.5 179.2,85.1 M189.2,75.9 Q191.8,80.5 189.2,85.1" fill="none" stroke="#4a4a4a" stroke-width="0.95"/><path d="M596,75 V85.7 H610.7" fill="none" stroke="#555" stroke-width="1.1"/><path d="M598.3,83.8 L598.3,80 L601,76.2 L604.7,80 L607.7,78 L609.7,83.8 Z" fill="#555"/><rect x="742.5" y="75.5" width="12.3" height="9" fill="none" stroke="#555" stroke-width="1"/><rect x="742" y="75" width="13.3" height="2.7" fill="#555"/><path d="M745,79.5 H752.5 M745,81.5 H752.5 M745,83.3 H752.5" stroke="#999" stroke-width="0.9"/><path d="M844.07,79.91 L844.07,81.09 L842.21,81.75 L841.89,82.53 L842.74,84.31 L841.91,85.14 L840.13,84.29 L839.35,84.61 L838.69,86.47 L837.51,86.47 L836.85,84.61 L836.07,84.29 L834.29,85.14 L833.46,84.31 L834.31,82.53 L833.99,81.75 L832.13,81.09 L832.13,79.91 L833.99,79.25 L834.31,78.47 L833.46,76.69 L834.29,75.86 L836.07,76.71 L836.85,76.39 L837.51,74.53 L838.69,74.53 L839.35,76.39 L840.13,76.71 L841.91,75.86 L842.74,76.69 L841.89,78.47 L842.21,79.25Z" fill="#444"/><circle cx="838.1" cy="80.5" r="2" fill="#f5f5f5"/><path d="M116.6,471.2 L123.9,471.2 L120.25,474.8 Z" fill="#1d1d33"/><path d="M257.8,468.8 L262.0,464.2 L266.0,468.8 Z M257.8,470.2 L262.0,474.8 L266.0,470.2 Z" fill="#d3d3d3"/><path d="M341,499.1 L345.2,494.5 L349.2,499.1 Z M341,500.5 L345.2,505.1 L349.2,500.5 Z" fill="#d3d3d3"/><path d="M423.4,484.1 L427.59999999999997,479.5 L431.59999999999997,484.1 Z M423.4,485.5 L427.59999999999997,490.1 L431.59999999999997,485.5 Z" fill="#d3d3d3"/><path d="M576.6,468.8 L580.8000000000001,464.2 L584.8000000000001,468.8 Z M576.6,470.2 L580.8000000000001,474.8 L584.8000000000001,470.2 Z" fill="#d3d3d3"/><path d="M730,468.8 L734.2,464.2 L738.2,468.8 Z M730,470.2 L734.2,474.8 L738.2,470.2 Z" fill="#d3d3d3"/><path d="M819.75,529.63 L820.73,529.87 L820.73,531.53 L819.75,531.77 L819.41,532.59 L819.93,533.45 L818.75,534.63 L817.89,534.11 L817.07,534.45 L816.83,535.43 L815.17,535.43 L814.93,534.45 L814.11,534.11 L813.25,534.63 L812.07,533.45 L812.59,532.59 L812.25,531.77 L811.27,531.53 L811.27,529.87 L812.25,529.63 L812.59,528.81 L812.07,527.95 L813.25,526.77 L814.11,527.29 L814.93,526.95 L815.17,525.97 L816.83,525.97 L817.07,526.95 L817.89,527.29 L818.75,526.77 L819.93,527.95 L819.41,528.81Z" fill="#3a3a3a"/><circle cx="816.00" cy="530.70" r="1.9" fill="#fff"/><path d="M812.49,535.80 L813.24,535.93 L813.24,537.07 L812.49,537.20 L812.21,537.78 L812.58,538.45 L811.69,539.16 L811.12,538.65 L810.49,538.79 L810.20,539.50 L809.09,539.24 L809.13,538.48 L808.63,538.08 L807.90,538.29 L807.40,537.26 L808.02,536.82 L808.02,536.18 L807.40,535.74 L807.90,534.71 L808.63,534.92 L809.13,534.52 L809.09,533.76 L810.20,533.50 L810.49,534.21 L811.12,534.35 L811.69,533.84 L812.58,534.55 L812.21,535.22Z" fill="#3a3a3a"/><circle cx="810.30" cy="536.50" r="0.9" fill="#fff"/><path d="M819.75,562.63 L820.73,562.87 L820.73,564.53 L819.75,564.77 L819.41,565.59 L819.93,566.45 L818.75,567.63 L817.89,567.11 L817.07,567.45 L816.83,568.43 L815.17,568.43 L814.93,567.45 L814.11,567.11 L813.25,567.63 L812.07,566.45 L812.59,565.59 L812.25,564.77 L811.27,564.53 L811.27,562.87 L812.25,562.63 L812.59,561.81 L812.07,560.95 L813.25,559.77 L814.11,560.29 L814.93,559.95 L815.17,558.97 L816.83,558.97 L817.07,559.95 L817.89,560.29 L818.75,559.77 L819.93,560.95 L819.41,561.81Z" fill="#3a3a3a"/><circle cx="816.00" cy="563.70" r="1.9" fill="#fff"/><path d="M812.49,568.80 L813.24,568.93 L813.24,570.07 L812.49,570.20 L812.21,570.78 L812.58,571.45 L811.69,572.16 L811.12,571.65 L810.49,571.79 L810.20,572.50 L809.09,572.24 L809.13,571.48 L808.63,571.08 L807.90,571.29 L807.40,570.26 L808.02,569.82 L808.02,569.18 L807.40,568.74 L807.90,567.71 L808.63,567.92 L809.13,567.52 L809.09,566.76 L810.20,566.50 L810.49,567.21 L811.12,567.35 L811.69,566.84 L812.58,567.55 L812.21,568.22Z" fill="#3a3a3a"/><circle cx="810.30" cy="569.50" r="0.9" fill="#fff"/><path d="M819.75,595.63 L820.73,595.87 L820.73,597.53 L819.75,597.77 L819.41,598.59 L819.93,599.45 L818.75,600.63 L817.89,600.11 L817.07,600.45 L816.83,601.43 L815.17,601.43 L814.93,600.45 L814.11,600.11 L813.25,600.63 L812.07,599.45 L812.59,598.59 L812.25,597.77 L811.27,597.53 L811.27,595.87 L812.25,595.63 L812.59,594.81 L812.07,593.95 L813.25,592.77 L814.11,593.29 L814.93,592.95 L815.17,591.97 L816.83,591.97 L817.07,592.95 L817.89,593.29 L818.75,592.77 L819.93,593.95 L819.41,594.81Z" fill="#3a3a3a"/><circle cx="816.00" cy="596.70" r="1.9" fill="#fff"/><path d="M812.49,601.80 L813.24,601.93 L813.24,603.07 L812.49,603.20 L812.21,603.78 L812.58,604.45 L811.69,605.16 L811.12,604.65 L810.49,604.79 L810.20,605.50 L809.09,605.24 L809.13,604.48 L808.63,604.08 L807.90,604.29 L807.40,603.26 L808.02,602.82 L808.02,602.18 L807.40,601.74 L807.90,600.71 L808.63,600.92 L809.13,600.52 L809.09,599.76 L810.20,599.50 L810.49,600.21 L811.12,600.35 L811.69,599.84 L812.58,600.55 L812.21,601.22Z" fill="#3a3a3a"/><circle cx="810.30" cy="602.50" r="0.9" fill="#fff"/><path d="M819.75,628.63 L820.73,628.87 L820.73,630.53 L819.75,630.77 L819.41,631.59 L819.93,632.45 L818.75,633.63 L817.89,633.11 L817.07,633.45 L816.83,634.43 L815.17,634.43 L814.93,633.45 L814.11,633.11 L813.25,633.63 L812.07,632.45 L812.59,631.59 L812.25,630.77 L811.27,630.53 L811.27,628.87 L812.25,628.63 L812.59,627.81 L812.07,626.95 L813.25,625.77 L814.11,626.29 L814.93,625.95 L815.17,624.97 L816.83,624.97 L817.07,625.95 L817.89,626.29 L818.75,625.77 L819.93,626.95 L819.41,627.81Z" fill="#3a3a3a"/><circle cx="816.00" cy="629.70" r="1.9" fill="#fff"/><path d="M812.49,634.80 L813.24,634.93 L813.24,636.07 L812.49,636.20 L812.21,636.78 L812.58,637.45 L811.69,638.16 L811.12,637.65 L810.49,637.79 L810.20,638.50 L809.09,638.24 L809.13,637.48 L808.63,637.08 L807.90,637.29 L807.40,636.26 L808.02,635.82 L808.02,635.18 L807.40,634.74 L807.90,633.71 L808.63,633.92 L809.13,633.52 L809.09,632.76 L810.20,632.50 L810.49,633.21 L811.12,633.35 L811.69,632.84 L812.58,633.55 L812.21,634.22Z" fill="#3a3a3a"/><circle cx="810.30" cy="635.50" r="0.9" fill="#fff"/><path d="M819.75,661.63 L820.73,661.87 L820.73,663.53 L819.75,663.77 L819.41,664.59 L819.93,665.45 L818.75,666.63 L817.89,666.11 L817.07,666.45 L816.83,667.43 L815.17,667.43 L814.93,666.45 L814.11,666.11 L813.25,666.63 L812.07,665.45 L812.59,664.59 L812.25,663.77 L811.27,663.53 L811.27,661.87 L812.25,661.63 L812.59,660.81 L812.07,659.95 L813.25,658.77 L814.11,659.29 L814.93,658.95 L815.17,657.97 L816.83,657.97 L817.07,658.95 L817.89,659.29 L818.75,658.77 L819.93,659.95 L819.41,660.81Z" fill="#3a3a3a"/><circle cx="816.00" cy="662.70" r="1.9" fill="#fff"/><path d="M812.49,667.80 L813.24,667.93 L813.24,669.07 L812.49,669.20 L812.21,669.78 L812.58,670.45 L811.69,671.16 L811.12,670.65 L810.49,670.79 L810.20,671.50 L809.09,671.24 L809.13,670.48 L808.63,670.08 L807.90,670.29 L807.40,669.26 L808.02,668.82 L808.02,668.18 L807.40,667.74 L807.90,666.71 L808.63,666.92 L809.13,666.52 L809.09,665.76 L810.20,665.50 L810.49,666.21 L811.12,666.35 L811.69,665.84 L812.58,666.55 L812.21,667.22Z" fill="#3a3a3a"/><circle cx="810.30" cy="668.50" r="0.9" fill="#fff"/><path d="M819.75,694.63 L820.73,694.87 L820.73,696.53 L819.75,696.77 L819.41,697.59 L819.93,698.45 L818.75,699.63 L817.89,699.11 L817.07,699.45 L816.83,700.43 L815.17,700.43 L814.93,699.45 L814.11,699.11 L813.25,699.63 L812.07,698.45 L812.59,697.59 L812.25,696.77 L811.27,696.53 L811.27,694.87 L812.25,694.63 L812.59,693.81 L812.07,692.95 L813.25,691.77 L814.11,692.29 L814.93,691.95 L815.17,690.97 L816.83,690.97 L817.07,691.95 L817.89,692.29 L818.75,691.77 L819.93,692.95 L819.41,693.81Z" fill="#3a3a3a"/><circle cx="816.00" cy="695.70" r="1.9" fill="#fff"/><path d="M812.49,700.80 L813.24,700.93 L813.24,702.07 L812.49,702.20 L812.21,702.78 L812.58,703.45 L811.69,704.16 L811.12,703.65 L810.49,703.79 L810.20,704.50 L809.09,704.24 L809.13,703.48 L808.63,703.08 L807.90,703.29 L807.40,702.26 L808.02,701.82 L808.02,701.18 L807.40,700.74 L807.90,699.71 L808.63,699.92 L809.13,699.52 L809.09,698.76 L810.20,698.50 L810.49,699.21 L811.12,699.35 L811.69,698.84 L812.58,699.55 L812.21,700.22Z" fill="#3a3a3a"/><circle cx="810.30" cy="701.50" r="0.9" fill="#fff"/><path d="M819.75,727.63 L820.73,727.87 L820.73,729.53 L819.75,729.77 L819.41,730.59 L819.93,731.45 L818.75,732.63 L817.89,732.11 L817.07,732.45 L816.83,733.43 L815.17,733.43 L814.93,732.45 L814.11,732.11 L813.25,732.63 L812.07,731.45 L812.59,730.59 L812.25,729.77 L811.27,729.53 L811.27,727.87 L812.25,727.63 L812.59,726.81 L812.07,725.95 L813.25,724.77 L814.11,725.29 L814.93,724.95 L815.17,723.97 L816.83,723.97 L817.07,724.95 L817.89,725.29 L818.75,724.77 L819.93,725.95 L819.41,726.81Z" fill="#3a3a3a"/><circle cx="816.00" cy="728.70" r="1.9" fill="#fff"/><path d="M812.49,733.80 L813.24,733.93 L813.24,735.07 L812.49,735.20 L812.21,735.78 L812.58,736.45 L811.69,737.16 L811.12,736.65 L810.49,736.79 L810.20,737.50 L809.09,737.24 L809.13,736.48 L808.63,736.08 L807.90,736.29 L807.40,735.26 L808.02,734.82 L808.02,734.18 L807.40,733.74 L807.90,732.71 L808.63,732.92 L809.13,732.52 L809.09,731.76 L810.20,731.50 L810.49,732.21 L811.12,732.35 L811.69,731.84 L812.58,732.55 L812.21,733.22Z" fill="#3a3a3a"/><circle cx="810.30" cy="734.50" r="0.9" fill="#fff"/><path d="M819.75,760.63 L820.73,760.87 L820.73,762.53 L819.75,762.77 L819.41,763.59 L819.93,764.45 L818.75,765.63 L817.89,765.11 L817.07,765.45 L816.83,766.43 L815.17,766.43 L814.93,765.45 L814.11,765.11 L813.25,765.63 L812.07,764.45 L812.59,763.59 L812.25,762.77 L811.27,762.53 L811.27,760.87 L812.25,760.63 L812.59,759.81 L812.07,758.95 L813.25,757.77 L814.11,758.29 L814.93,757.95 L815.17,756.97 L816.83,756.97 L817.07,757.95 L817.89,758.29 L818.75,757.77 L819.93,758.95 L819.41,759.81Z" fill="#3a3a3a"/><circle cx="816.00" cy="761.70" r="1.9" fill="#fff"/><path d="M812.49,766.80 L813.24,766.93 L813.24,768.07 L812.49,768.20 L812.21,768.78 L812.58,769.45 L811.69,770.16 L811.12,769.65 L810.49,769.79 L810.20,770.50 L809.09,770.24 L809.13,769.48 L808.63,769.08 L807.90,769.29 L807.40,768.26 L808.02,767.82 L808.02,767.18 L807.40,766.74 L807.90,765.71 L808.63,765.92 L809.13,765.52 L809.09,764.76 L810.20,764.50 L810.49,765.21 L811.12,765.35 L811.69,764.84 L812.58,765.55 L812.21,766.22Z" fill="#3a3a3a"/><circle cx="810.30" cy="767.50" r="0.9" fill="#fff"/><path d="M819.75,793.63 L820.73,793.87 L820.73,795.53 L819.75,795.77 L819.41,796.59 L819.93,797.45 L818.75,798.63 L817.89,798.11 L817.07,798.45 L816.83,799.43 L815.17,799.43 L814.93,798.45 L814.11,798.11 L813.25,798.63 L812.07,797.45 L812.59,796.59 L812.25,795.77 L811.27,795.53 L811.27,793.87 L812.25,793.63 L812.59,792.81 L812.07,791.95 L813.25,790.77 L814.11,791.29 L814.93,790.95 L815.17,789.97 L816.83,789.97 L817.07,790.95 L817.89,791.29 L818.75,790.77 L819.93,791.95 L819.41,792.81Z" fill="#3a3a3a"/><circle cx="816.00" cy="794.70" r="1.9" fill="#fff"/><path d="M812.49,799.80 L813.24,799.93 L813.24,801.07 L812.49,801.20 L812.21,801.78 L812.58,802.45 L811.69,803.16 L811.12,802.65 L810.49,802.79 L810.20,803.50 L809.09,803.24 L809.13,802.48 L808.63,802.08 L807.90,802.29 L807.40,801.26 L808.02,800.82 L808.02,800.18 L807.40,799.74 L807.90,798.71 L808.63,798.92 L809.13,798.52 L809.09,797.76 L810.20,797.50 L810.49,798.21 L811.12,798.35 L811.69,797.84 L812.58,798.55 L812.21,799.22Z" fill="#3a3a3a"/><circle cx="810.30" cy="800.50" r="0.9" fill="#fff"/><path d="M819.75,826.63 L820.73,826.87 L820.73,828.53 L819.75,828.77 L819.41,829.59 L819.93,830.45 L818.75,831.63 L817.89,831.11 L817.07,831.45 L816.83,832.43 L815.17,832.43 L814.93,831.45 L814.11,831.11 L813.25,831.63 L812.07,830.45 L812.59,829.59 L812.25,828.77 L811.27,828.53 L811.27,826.87 L812.25,826.63 L812.59,825.81 L812.07,824.95 L813.25,823.77 L814.11,824.29 L814.93,823.95 L815.17,822.97 L816.83,822.97 L817.07,823.95 L817.89,824.29 L818.75,823.77 L819.93,824.95 L819.41,825.81Z" fill="#3a3a3a"/><circle cx="816.00" cy="827.70" r="1.9" fill="#fff"/><path d="M812.49,832.80 L813.24,832.93 L813.24,834.07 L812.49,834.20 L812.21,834.78 L812.58,835.45 L811.69,836.16 L811.12,835.65 L810.49,835.79 L810.20,836.50 L809.09,836.24 L809.13,835.48 L808.63,835.08 L807.90,835.29 L807.40,834.26 L808.02,833.82 L808.02,833.18 L807.40,832.74 L807.90,831.71 L808.63,831.92 L809.13,831.52 L809.09,830.76 L810.20,830.50 L810.49,831.21 L811.12,831.35 L811.69,830.84 L812.58,831.55 L812.21,832.22Z" fill="#3a3a3a"/><circle cx="810.30" cy="833.50" r="0.9" fill="#fff"/></svg>
</body></html>
